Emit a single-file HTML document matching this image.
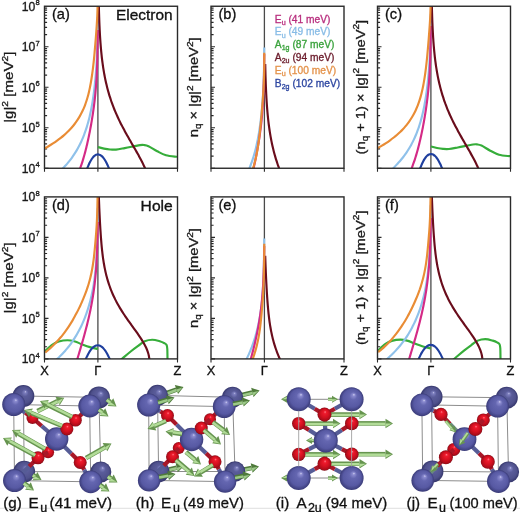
<!DOCTYPE html>
<html><head><meta charset="utf-8"><style>
html,body{margin:0;padding:0;background:#fff;}
body{width:520px;height:512px;overflow:hidden;font-family:"Liberation Sans",sans-serif;}
svg{display:block;will-change:transform;}
</style></head><body>
<svg width="520" height="512" viewBox="0 0 520 512">
<defs>
<radialGradient id="gB" cx="0.5" cy="0.5" r="0.5" fx="0.6" fy="0.3">
  <stop offset="0" stop-color="#d4d4f2"/>
  <stop offset="0.1" stop-color="#8c8cd0"/>
  <stop offset="0.32" stop-color="#6466b0"/>
  <stop offset="0.75" stop-color="#5759a3"/>
  <stop offset="1" stop-color="#3a3b78"/>
</radialGradient>
<radialGradient id="gBd" cx="0.5" cy="0.5" r="0.5" fx="0.6" fy="0.3">
  <stop offset="0" stop-color="#c0c0e6"/>
  <stop offset="0.1" stop-color="#7c7ebe"/>
  <stop offset="0.32" stop-color="#5a5c9a"/>
  <stop offset="0.75" stop-color="#4f518c"/>
  <stop offset="1" stop-color="#34356a"/>
</radialGradient>
<radialGradient id="gO" cx="0.5" cy="0.5" r="0.5" fx="0.55" fy="0.3">
  <stop offset="0" stop-color="#ff7a86"/>
  <stop offset="0.2" stop-color="#ee1a2c"/>
  <stop offset="0.6" stop-color="#d2101f"/>
  <stop offset="0.9" stop-color="#a80c1a"/>
  <stop offset="1" stop-color="#7a0a14"/>
</radialGradient>
</defs>
<path d="M44.50,168.25h4.0 M44.50,156.06h2.6 M44.50,148.93h2.6 M44.50,143.87h2.6 M44.50,139.94h2.6 M44.50,136.73h2.6 M44.50,134.02h2.6 M44.50,131.67h2.6 M44.50,129.60h2.6 M44.50,127.75h4.0 M44.50,115.56h2.6 M44.50,108.43h2.6 M44.50,103.37h2.6 M44.50,99.44h2.6 M44.50,96.23h2.6 M44.50,93.52h2.6 M44.50,91.17h2.6 M44.50,89.10h2.6 M44.50,87.25h4.0 M44.50,75.06h2.6 M44.50,67.93h2.6 M44.50,62.87h2.6 M44.50,58.94h2.6 M44.50,55.73h2.6 M44.50,53.02h2.6 M44.50,50.67h2.6 M44.50,48.60h2.6 M44.50,46.75h4.0 M44.50,34.56h2.6 M44.50,27.43h2.6 M44.50,22.37h2.6 M44.50,18.44h2.6 M44.50,15.23h2.6 M44.50,12.52h2.6 M44.50,10.17h2.6 M44.50,8.10h2.6" stroke="#2a2a2a" stroke-width="1.15" fill="none"/>
<line x1="97.90" y1="6.25" x2="97.90" y2="168.25" stroke="#4a4a4a" stroke-width="1.3"/>
<path d="M44.50,168.25v3.6 M97.90,168.25v3.6 M177.50,168.25v3.6" stroke="#2a2a2a" stroke-width="1.1"/>
<path d="M211.00,168.25h4.0 M211.00,156.06h2.6 M211.00,148.93h2.6 M211.00,143.87h2.6 M211.00,139.94h2.6 M211.00,136.73h2.6 M211.00,134.02h2.6 M211.00,131.67h2.6 M211.00,129.60h2.6 M211.00,127.75h4.0 M211.00,115.56h2.6 M211.00,108.43h2.6 M211.00,103.37h2.6 M211.00,99.44h2.6 M211.00,96.23h2.6 M211.00,93.52h2.6 M211.00,91.17h2.6 M211.00,89.10h2.6 M211.00,87.25h4.0 M211.00,75.06h2.6 M211.00,67.93h2.6 M211.00,62.87h2.6 M211.00,58.94h2.6 M211.00,55.73h2.6 M211.00,53.02h2.6 M211.00,50.67h2.6 M211.00,48.60h2.6 M211.00,46.75h4.0 M211.00,34.56h2.6 M211.00,27.43h2.6 M211.00,22.37h2.6 M211.00,18.44h2.6 M211.00,15.23h2.6 M211.00,12.52h2.6 M211.00,10.17h2.6 M211.00,8.10h2.6" stroke="#2a2a2a" stroke-width="1.15" fill="none"/>
<line x1="264.40" y1="6.25" x2="264.40" y2="168.25" stroke="#4a4a4a" stroke-width="1.3"/>
<path d="M211.00,168.25v3.6 M264.40,168.25v3.6 M344.00,168.25v3.6" stroke="#2a2a2a" stroke-width="1.1"/>
<path d="M377.50,168.25h4.0 M377.50,156.06h2.6 M377.50,148.93h2.6 M377.50,143.87h2.6 M377.50,139.94h2.6 M377.50,136.73h2.6 M377.50,134.02h2.6 M377.50,131.67h2.6 M377.50,129.60h2.6 M377.50,127.75h4.0 M377.50,115.56h2.6 M377.50,108.43h2.6 M377.50,103.37h2.6 M377.50,99.44h2.6 M377.50,96.23h2.6 M377.50,93.52h2.6 M377.50,91.17h2.6 M377.50,89.10h2.6 M377.50,87.25h4.0 M377.50,75.06h2.6 M377.50,67.93h2.6 M377.50,62.87h2.6 M377.50,58.94h2.6 M377.50,55.73h2.6 M377.50,53.02h2.6 M377.50,50.67h2.6 M377.50,48.60h2.6 M377.50,46.75h4.0 M377.50,34.56h2.6 M377.50,27.43h2.6 M377.50,22.37h2.6 M377.50,18.44h2.6 M377.50,15.23h2.6 M377.50,12.52h2.6 M377.50,10.17h2.6 M377.50,8.10h2.6" stroke="#2a2a2a" stroke-width="1.15" fill="none"/>
<line x1="430.90" y1="6.25" x2="430.90" y2="168.25" stroke="#4a4a4a" stroke-width="1.3"/>
<path d="M377.50,168.25v3.6 M430.90,168.25v3.6 M510.50,168.25v3.6" stroke="#2a2a2a" stroke-width="1.1"/>
<path d="M44.50,358.90h4.0 M44.50,346.71h2.6 M44.50,339.58h2.6 M44.50,334.52h2.6 M44.50,330.59h2.6 M44.50,327.38h2.6 M44.50,324.67h2.6 M44.50,322.32h2.6 M44.50,320.25h2.6 M44.50,318.40h4.0 M44.50,306.21h2.6 M44.50,299.08h2.6 M44.50,294.02h2.6 M44.50,290.09h2.6 M44.50,286.88h2.6 M44.50,284.17h2.6 M44.50,281.82h2.6 M44.50,279.75h2.6 M44.50,277.90h4.0 M44.50,265.71h2.6 M44.50,258.58h2.6 M44.50,253.52h2.6 M44.50,249.59h2.6 M44.50,246.38h2.6 M44.50,243.67h2.6 M44.50,241.32h2.6 M44.50,239.25h2.6 M44.50,237.40h4.0 M44.50,225.21h2.6 M44.50,218.08h2.6 M44.50,213.02h2.6 M44.50,209.09h2.6 M44.50,205.88h2.6 M44.50,203.17h2.6 M44.50,200.82h2.6 M44.50,198.75h2.6" stroke="#2a2a2a" stroke-width="1.15" fill="none"/>
<line x1="97.90" y1="196.90" x2="97.90" y2="358.90" stroke="#4a4a4a" stroke-width="1.3"/>
<path d="M44.50,358.90v3.6 M97.90,358.90v3.6 M177.50,358.90v3.6" stroke="#2a2a2a" stroke-width="1.1"/>
<path d="M211.00,358.90h4.0 M211.00,346.71h2.6 M211.00,339.58h2.6 M211.00,334.52h2.6 M211.00,330.59h2.6 M211.00,327.38h2.6 M211.00,324.67h2.6 M211.00,322.32h2.6 M211.00,320.25h2.6 M211.00,318.40h4.0 M211.00,306.21h2.6 M211.00,299.08h2.6 M211.00,294.02h2.6 M211.00,290.09h2.6 M211.00,286.88h2.6 M211.00,284.17h2.6 M211.00,281.82h2.6 M211.00,279.75h2.6 M211.00,277.90h4.0 M211.00,265.71h2.6 M211.00,258.58h2.6 M211.00,253.52h2.6 M211.00,249.59h2.6 M211.00,246.38h2.6 M211.00,243.67h2.6 M211.00,241.32h2.6 M211.00,239.25h2.6 M211.00,237.40h4.0 M211.00,225.21h2.6 M211.00,218.08h2.6 M211.00,213.02h2.6 M211.00,209.09h2.6 M211.00,205.88h2.6 M211.00,203.17h2.6 M211.00,200.82h2.6 M211.00,198.75h2.6" stroke="#2a2a2a" stroke-width="1.15" fill="none"/>
<line x1="264.40" y1="196.90" x2="264.40" y2="358.90" stroke="#4a4a4a" stroke-width="1.3"/>
<path d="M211.00,358.90v3.6 M264.40,358.90v3.6 M344.00,358.90v3.6" stroke="#2a2a2a" stroke-width="1.1"/>
<path d="M377.50,358.90h4.0 M377.50,346.71h2.6 M377.50,339.58h2.6 M377.50,334.52h2.6 M377.50,330.59h2.6 M377.50,327.38h2.6 M377.50,324.67h2.6 M377.50,322.32h2.6 M377.50,320.25h2.6 M377.50,318.40h4.0 M377.50,306.21h2.6 M377.50,299.08h2.6 M377.50,294.02h2.6 M377.50,290.09h2.6 M377.50,286.88h2.6 M377.50,284.17h2.6 M377.50,281.82h2.6 M377.50,279.75h2.6 M377.50,277.90h4.0 M377.50,265.71h2.6 M377.50,258.58h2.6 M377.50,253.52h2.6 M377.50,249.59h2.6 M377.50,246.38h2.6 M377.50,243.67h2.6 M377.50,241.32h2.6 M377.50,239.25h2.6 M377.50,237.40h4.0 M377.50,225.21h2.6 M377.50,218.08h2.6 M377.50,213.02h2.6 M377.50,209.09h2.6 M377.50,205.88h2.6 M377.50,203.17h2.6 M377.50,200.82h2.6 M377.50,198.75h2.6" stroke="#2a2a2a" stroke-width="1.15" fill="none"/>
<line x1="430.90" y1="196.90" x2="430.90" y2="358.90" stroke="#4a4a4a" stroke-width="1.3"/>
<path d="M377.50,358.90v3.6 M430.90,358.90v3.6 M510.50,358.90v3.6" stroke="#2a2a2a" stroke-width="1.1"/>
<clipPath id="cp00"><rect x="44.5" y="6.25" width="133.0" height="162.0"/></clipPath>
<path d="M97.90,147.10 C98.92,147.35 101.98,148.20 104.00,148.60 C106.02,149.00 108.00,149.33 110.00,149.50 C112.00,149.67 113.54,149.83 116.00,149.60 C118.46,149.37 121.83,148.63 124.75,148.10 C127.67,147.57 130.96,146.90 133.50,146.40 C136.04,145.90 138.25,145.33 140.00,145.10 C141.75,144.87 142.58,144.82 144.00,145.00 C145.42,145.18 146.29,145.15 148.50,146.20 C150.71,147.25 154.33,149.78 157.25,151.30 C160.17,152.82 162.71,154.38 166.00,155.30 C169.29,156.22 175.17,156.55 177.00,156.80" fill="none" stroke="#36ad3a" stroke-width="2.15" stroke-linejoin="round" stroke-linecap="butt" clip-path="url(#cp00)"/>
<path d="M83.66,176.98 C84.30,175.44 86.64,169.82 87.50,167.75 C88.36,165.68 88.38,165.55 88.83,164.57 C89.27,163.58 89.71,162.66 90.15,161.81 C90.59,160.97 91.03,160.20 91.47,159.50 C91.92,158.79 92.36,158.17 92.80,157.61 C93.24,157.05 93.68,156.57 94.12,156.16 C94.57,155.75 95.01,155.41 95.45,155.14 C95.89,154.87 96.33,154.68 96.78,154.56 C97.22,154.43 97.66,154.39 98.10,154.40 C98.54,154.42 98.98,154.51 99.42,154.67 C99.87,154.82 100.31,155.04 100.75,155.33 C101.19,155.62 101.63,155.97 102.08,156.40 C102.52,156.82 102.96,157.31 103.40,157.86 C103.84,158.42 104.28,159.04 104.72,159.73 C105.17,160.42 105.61,161.18 106.05,162.00 C106.49,162.83 106.93,163.72 107.38,164.68 C107.82,165.63 107.82,165.71 108.70,167.75 C109.58,169.79 112.00,175.40 112.66,176.93" fill="none" stroke="#1f3f9e" stroke-width="2.15" stroke-linejoin="round" stroke-linecap="butt" clip-path="url(#cp00)"/>
<path d="M97.76,17.00 C97.75,17.43 97.74,18.70 97.74,19.56 C97.73,20.41 97.72,21.26 97.72,22.11 C97.71,22.96 97.70,23.81 97.69,24.67 C97.68,25.52 97.67,26.37 97.66,27.22 C97.65,28.07 97.64,28.92 97.63,29.78 C97.62,30.63 97.61,31.48 97.60,32.33 C97.58,33.18 97.57,34.03 97.55,34.89 C97.54,35.74 97.52,36.59 97.51,37.44 C97.49,38.29 97.47,39.14 97.45,40.00 C97.43,40.85 97.41,41.70 97.39,42.55 C97.37,43.40 97.35,44.25 97.33,45.11 C97.30,45.96 97.28,46.81 97.25,47.66 C97.22,48.51 97.19,49.36 97.16,50.22 C97.13,51.07 97.10,51.92 97.07,52.77 C97.03,53.62 97.00,54.47 96.96,55.33 C96.92,56.18 96.89,57.03 96.84,57.88 C96.80,58.73 96.76,59.58 96.72,60.44 C96.67,61.29 96.62,62.14 96.57,62.99 C96.52,63.84 96.47,64.69 96.42,65.55 C96.36,66.40 96.31,67.25 96.25,68.10 C96.19,68.95 96.13,69.81 96.07,70.66 C96.00,71.51 95.94,72.36 95.87,73.21 C95.80,74.06 95.73,74.92 95.66,75.77 C95.59,76.62 95.51,77.47 95.43,78.32 C95.36,79.17 95.28,80.03 95.19,80.88 C95.11,81.73 95.02,82.58 94.94,83.43 C94.85,84.28 94.76,85.14 94.66,85.99 C94.57,86.84 94.47,87.69 94.37,88.54 C94.27,89.39 94.17,90.25 94.06,91.10 C93.95,91.95 93.84,92.80 93.73,93.65 C93.62,94.50 93.50,95.36 93.38,96.21 C93.26,97.06 93.13,97.91 93.01,98.76 C92.88,99.61 92.75,100.47 92.61,101.32 C92.47,102.17 92.33,103.02 92.19,103.87 C92.04,104.72 91.89,105.58 91.74,106.43 C91.58,107.28 91.42,108.13 91.26,108.98 C91.09,109.83 90.92,110.69 90.74,111.54 C90.57,112.39 90.38,113.24 90.19,114.09 C90.01,114.94 89.81,115.80 89.61,116.65 C89.41,117.50 89.20,118.35 88.98,119.20 C88.77,120.06 88.54,120.91 88.31,121.76 C88.08,122.61 87.84,123.46 87.59,124.31 C87.35,125.17 87.09,126.02 86.83,126.87 C86.56,127.72 86.29,128.57 86.01,129.42 C85.73,130.28 85.43,131.13 85.13,131.98 C84.83,132.83 84.52,133.68 84.19,134.53 C83.87,135.39 83.53,136.24 83.19,137.09 C82.84,137.94 82.48,138.79 82.11,139.64 C81.74,140.50 81.35,141.35 80.95,142.20 C80.56,143.05 80.14,143.90 79.72,144.75 C79.29,145.61 78.85,146.46 78.39,147.31 C77.93,148.16 77.45,149.01 76.96,149.86 C76.47,150.72 75.96,151.57 75.43,152.42 C74.90,153.27 74.35,154.12 73.78,154.97 C73.21,155.83 72.62,156.68 72.01,157.53 C71.40,158.38 70.76,159.23 70.10,160.08 C69.44,160.94 68.76,161.79 68.05,162.64 C67.33,163.49 66.60,164.34 65.83,165.19 C65.06,166.05 64.98,166.11 63.44,167.75 C61.90,169.39 57.74,173.83 56.60,175.05" fill="none" stroke="#8fc1ea" stroke-width="2.15" stroke-linejoin="round" stroke-linecap="butt" clip-path="url(#cp00)"/>
<path d="M97.75,30.00 C97.75,30.39 97.74,31.56 97.73,32.33 C97.73,33.11 97.72,33.89 97.71,34.67 C97.71,35.45 97.70,36.23 97.69,37.00 C97.68,37.78 97.67,38.56 97.67,39.34 C97.66,40.12 97.65,40.90 97.64,41.67 C97.63,42.45 97.62,43.23 97.61,44.01 C97.60,44.79 97.59,45.56 97.57,46.34 C97.56,47.12 97.55,47.90 97.54,48.68 C97.52,49.46 97.51,50.23 97.49,51.01 C97.48,51.79 97.46,52.57 97.45,53.35 C97.43,54.13 97.41,54.90 97.39,55.68 C97.38,56.46 97.36,57.24 97.34,58.02 C97.32,58.80 97.30,59.57 97.27,60.35 C97.25,61.13 97.23,61.91 97.20,62.69 C97.18,63.46 97.15,64.24 97.13,65.02 C97.10,65.80 97.07,66.58 97.04,67.36 C97.01,68.13 96.98,68.91 96.95,69.69 C96.91,70.47 96.88,71.25 96.84,72.03 C96.81,72.80 96.77,73.58 96.73,74.36 C96.69,75.14 96.65,75.92 96.61,76.69 C96.57,77.47 96.52,78.25 96.48,79.03 C96.43,79.81 96.38,80.59 96.33,81.36 C96.28,82.14 96.23,82.92 96.17,83.70 C96.12,84.48 96.06,85.26 96.00,86.03 C95.94,86.81 95.88,87.59 95.82,88.37 C95.75,89.15 95.69,89.93 95.62,90.70 C95.55,91.48 95.48,92.26 95.41,93.04 C95.33,93.82 95.26,94.59 95.18,95.37 C95.10,96.15 95.02,96.93 94.94,97.71 C94.85,98.49 94.77,99.26 94.68,100.04 C94.59,100.82 94.50,101.60 94.40,102.38 C94.31,103.16 94.21,103.93 94.11,104.71 C94.02,105.49 93.91,106.27 93.81,107.05 C93.71,107.82 93.60,108.60 93.49,109.38 C93.38,110.16 93.27,110.94 93.16,111.72 C93.05,112.49 92.93,113.27 92.82,114.05 C92.70,114.83 92.58,115.61 92.46,116.39 C92.34,117.16 92.21,117.94 92.08,118.72 C91.96,119.50 91.83,120.28 91.70,121.06 C91.57,121.83 91.44,122.61 91.30,123.39 C91.17,124.17 91.03,124.95 90.89,125.72 C90.75,126.50 90.61,127.28 90.46,128.06 C90.32,128.84 90.17,129.62 90.02,130.39 C89.88,131.17 89.72,131.95 89.57,132.73 C89.42,133.51 89.26,134.29 89.10,135.06 C88.94,135.84 88.78,136.62 88.62,137.40 C88.45,138.18 88.29,138.95 88.12,139.73 C87.95,140.51 87.78,141.29 87.60,142.07 C87.43,142.85 87.25,143.62 87.07,144.40 C86.89,145.18 86.70,145.96 86.51,146.74 C86.32,147.52 86.13,148.29 85.94,149.07 C85.74,149.85 85.54,150.63 85.34,151.41 C85.14,152.19 84.93,152.96 84.72,153.74 C84.51,154.52 84.29,155.30 84.07,156.08 C83.85,156.85 83.62,157.63 83.39,158.41 C83.16,159.19 82.93,159.97 82.68,160.75 C82.44,161.52 82.20,162.30 81.94,163.08 C81.69,163.86 81.43,164.64 81.16,165.42 C80.89,166.19 81.03,165.79 80.33,167.75 C79.64,169.71 77.56,175.61 77.00,177.18" fill="none" stroke="#d42a86" stroke-width="2.15" stroke-linejoin="round" stroke-linecap="butt" clip-path="url(#cp00)"/>
<path d="M98.73,0.60 C98.74,1.07 98.77,2.49 98.79,3.43 C98.81,4.38 98.83,5.32 98.85,6.27 C98.88,7.21 98.90,8.15 98.93,9.10 C98.95,10.04 98.98,10.99 99.00,11.93 C99.03,12.88 99.06,13.82 99.09,14.77 C99.12,15.71 99.15,16.65 99.18,17.60 C99.21,18.54 99.25,19.49 99.28,20.43 C99.32,21.38 99.35,22.32 99.39,23.26 C99.43,24.21 99.47,25.15 99.51,26.10 C99.55,27.04 99.60,27.99 99.64,28.93 C99.69,29.87 99.74,30.82 99.79,31.76 C99.84,32.71 99.89,33.65 99.94,34.60 C100.00,35.54 100.05,36.49 100.11,37.43 C100.17,38.37 100.24,39.32 100.30,40.26 C100.37,41.21 100.43,42.15 100.50,43.10 C100.57,44.04 100.65,44.98 100.72,45.93 C100.80,46.87 100.88,47.82 100.97,48.76 C101.05,49.71 101.14,50.65 101.23,51.59 C101.32,52.54 101.41,53.48 101.51,54.43 C101.61,55.37 101.71,56.32 101.82,57.26 C101.93,58.21 102.04,59.15 102.16,60.09 C102.28,61.04 102.40,61.98 102.52,62.93 C102.65,63.87 102.78,64.82 102.92,65.76 C103.06,66.70 103.20,67.65 103.35,68.59 C103.49,69.54 103.65,70.48 103.81,71.43 C103.97,72.37 104.13,73.31 104.31,74.26 C104.48,75.20 104.66,76.15 104.84,77.09 C105.03,78.04 105.22,78.98 105.42,79.93 C105.62,80.87 105.83,81.81 106.04,82.76 C106.26,83.70 106.48,84.65 106.71,85.59 C106.94,86.54 107.18,87.48 107.43,88.42 C107.68,89.37 107.93,90.31 108.19,91.26 C108.46,92.20 108.73,93.15 109.01,94.09 C109.29,95.04 109.58,95.98 109.88,96.92 C110.18,97.87 110.49,98.81 110.81,99.76 C111.12,100.70 111.45,101.65 111.79,102.59 C112.13,103.53 112.47,104.48 112.83,105.42 C113.18,106.37 113.55,107.31 113.92,108.26 C114.30,109.20 114.68,110.14 115.08,111.09 C115.47,112.03 115.88,112.98 116.29,113.92 C116.70,114.87 117.13,115.81 117.56,116.76 C117.99,117.70 118.43,118.64 118.88,119.59 C119.33,120.53 119.79,121.48 120.26,122.42 C120.73,123.37 121.21,124.31 121.69,125.25 C122.18,126.20 122.67,127.14 123.17,128.09 C123.67,129.03 124.17,129.98 124.69,130.92 C125.20,131.86 125.72,132.81 126.24,133.75 C126.77,134.70 127.30,135.64 127.83,136.59 C128.36,137.53 128.90,138.48 129.44,139.42 C129.98,140.36 130.53,141.31 131.07,142.25 C131.62,143.20 132.16,144.14 132.71,145.09 C133.26,146.03 133.80,146.97 134.35,147.92 C134.89,148.86 135.43,149.81 135.97,150.75 C136.51,151.70 137.05,152.64 137.57,153.58 C138.10,154.53 138.63,155.47 139.14,156.42 C139.66,157.36 140.17,158.31 140.67,159.25 C141.16,160.20 141.65,161.14 142.13,162.08 C142.60,163.03 143.07,163.97 143.52,164.92 C143.97,165.86 143.91,165.76 144.82,167.75 C145.74,169.74 148.31,175.32 149.00,176.83" fill="none" stroke="#6a0d1c" stroke-width="2.15" stroke-linejoin="round" stroke-linecap="butt" clip-path="url(#cp00)"/>
<path d="M97.76,-15.00 C97.76,-14.54 97.76,-13.15 97.76,-12.22 C97.76,-11.29 97.76,-10.37 97.76,-9.44 C97.76,-8.51 97.75,-7.59 97.75,-6.66 C97.74,-5.73 97.74,-4.81 97.73,-3.88 C97.73,-2.95 97.72,-2.03 97.71,-1.10 C97.70,-0.18 97.69,0.75 97.68,1.68 C97.66,2.60 97.65,3.53 97.63,4.46 C97.61,5.38 97.59,6.31 97.57,7.24 C97.55,8.16 97.53,9.09 97.50,10.02 C97.47,10.94 97.44,11.87 97.40,12.80 C97.37,13.72 97.33,14.65 97.29,15.58 C97.25,16.50 97.20,17.43 97.15,18.36 C97.10,19.28 97.05,20.21 97.00,21.14 C96.94,22.06 96.89,22.99 96.83,23.92 C96.77,24.84 96.71,25.77 96.65,26.69 C96.58,27.62 96.52,28.55 96.45,29.47 C96.39,30.40 96.32,31.33 96.25,32.25 C96.18,33.18 96.11,34.11 96.04,35.03 C95.96,35.96 95.89,36.89 95.82,37.81 C95.75,38.74 95.67,39.67 95.60,40.59 C95.52,41.52 95.45,42.45 95.37,43.37 C95.29,44.30 95.22,45.23 95.14,46.15 C95.06,47.08 94.98,48.01 94.90,48.93 C94.82,49.86 94.74,50.79 94.66,51.71 C94.58,52.64 94.50,53.56 94.41,54.49 C94.33,55.42 94.24,56.34 94.15,57.27 C94.06,58.20 93.97,59.12 93.87,60.05 C93.78,60.98 93.68,61.90 93.58,62.83 C93.48,63.76 93.37,64.68 93.27,65.61 C93.16,66.54 93.05,67.46 92.94,68.39 C92.82,69.32 92.70,70.24 92.58,71.17 C92.46,72.10 92.34,73.02 92.21,73.95 C92.08,74.88 91.94,75.80 91.80,76.73 C91.66,77.66 91.52,78.58 91.37,79.51 C91.22,80.44 91.06,81.36 90.90,82.29 C90.74,83.21 90.57,84.14 90.39,85.07 C90.22,85.99 90.03,86.92 89.84,87.85 C89.65,88.77 89.45,89.70 89.24,90.63 C89.03,91.55 88.82,92.48 88.59,93.41 C88.36,94.33 88.12,95.26 87.87,96.19 C87.61,97.11 87.35,98.04 87.07,98.97 C86.79,99.89 86.50,100.82 86.19,101.75 C85.89,102.67 85.56,103.60 85.22,104.53 C84.88,105.45 84.52,106.38 84.14,107.31 C83.75,108.23 83.36,109.16 82.93,110.08 C82.51,111.01 82.07,111.94 81.60,112.86 C81.13,113.79 80.64,114.72 80.11,115.64 C79.59,116.57 79.05,117.50 78.47,118.42 C77.89,119.35 77.29,120.28 76.64,121.20 C76.00,122.13 75.33,123.06 74.62,123.98 C73.91,124.91 73.17,125.84 72.38,126.76 C71.59,127.69 70.77,128.62 69.90,129.54 C69.03,130.47 68.12,131.40 67.15,132.32 C66.19,133.25 65.18,134.18 64.12,135.10 C63.05,136.03 61.94,136.95 60.77,137.88 C59.59,138.81 58.36,139.73 57.07,140.66 C55.77,141.59 54.42,142.51 52.99,143.44 C51.56,144.37 50.07,145.29 48.50,146.22 C46.93,147.15 44.39,148.54 43.57,149.00" fill="none" stroke="#e98c35" stroke-width="2.15" stroke-linejoin="round" stroke-linecap="butt" clip-path="url(#cp00)"/>
<clipPath id="cp10"><rect x="211.0" y="6.25" width="133.0" height="162.0"/></clipPath>
<path d="M264.40,205.68 C265.42,205.93 268.48,206.78 270.50,207.18 C272.52,207.58 274.50,207.91 276.50,208.08 C278.50,208.25 280.04,208.41 282.50,208.18 C284.96,207.95 288.33,207.21 291.25,206.68 C294.17,206.15 297.46,205.48 300.00,204.98 C302.54,204.48 304.75,203.91 306.50,203.68 C308.25,203.45 309.08,203.40 310.50,203.58 C311.92,203.76 312.79,203.73 315.00,204.78 C317.21,205.83 320.83,208.36 323.75,209.88 C326.67,211.40 329.21,212.96 332.50,213.88 C335.79,214.80 341.67,215.13 343.50,215.38" fill="none" stroke="#36ad3a" stroke-width="2.15" stroke-linejoin="round" stroke-linecap="butt" clip-path="url(#cp10)"/>
<path d="M250.16,246.04 C250.80,244.50 253.14,238.88 254.00,236.81 C254.86,234.74 254.88,234.61 255.32,233.62 C255.77,232.64 256.21,231.72 256.65,230.87 C257.09,230.03 257.53,229.26 257.98,228.55 C258.42,227.85 258.86,227.23 259.30,226.67 C259.74,226.11 260.18,225.63 260.62,225.22 C261.07,224.81 261.51,224.47 261.95,224.20 C262.39,223.93 262.83,223.74 263.27,223.62 C263.72,223.49 264.16,223.45 264.60,223.46 C265.04,223.48 265.48,223.57 265.93,223.73 C266.37,223.88 266.81,224.10 267.25,224.39 C267.69,224.68 268.13,225.03 268.57,225.45 C269.02,225.88 269.46,226.37 269.90,226.92 C270.34,227.48 270.78,228.10 271.23,228.79 C271.67,229.48 272.11,230.24 272.55,231.06 C272.99,231.89 273.43,232.78 273.88,233.73 C274.32,234.69 274.32,234.77 275.20,236.81 C276.08,238.85 278.50,244.46 279.16,245.99" fill="none" stroke="#1f3f9e" stroke-width="2.15" stroke-linejoin="round" stroke-linecap="butt" clip-path="url(#cp10)"/>
<path d="M265.23,64.09 C265.24,64.56 265.27,65.98 265.29,66.92 C265.31,67.87 265.33,68.81 265.35,69.76 C265.38,70.70 265.40,71.64 265.43,72.59 C265.45,73.53 265.48,74.48 265.50,75.42 C265.53,76.37 265.56,77.31 265.59,78.26 C265.62,79.20 265.65,80.14 265.68,81.09 C265.71,82.03 265.75,82.98 265.78,83.92 C265.82,84.87 265.85,85.81 265.89,86.75 C265.93,87.70 265.97,88.64 266.01,89.59 C266.05,90.53 266.10,91.48 266.14,92.42 C266.19,93.36 266.24,94.31 266.29,95.25 C266.34,96.20 266.39,97.14 266.44,98.09 C266.50,99.03 266.55,99.98 266.61,100.92 C266.67,101.86 266.74,102.81 266.80,103.75 C266.87,104.70 266.93,105.64 267.00,106.59 C267.07,107.53 267.15,108.47 267.22,109.42 C267.30,110.36 267.38,111.31 267.47,112.25 C267.55,113.20 267.64,114.14 267.73,115.09 C267.82,116.03 267.91,116.97 268.01,117.92 C268.11,118.86 268.21,119.81 268.32,120.75 C268.43,121.70 268.54,122.64 268.66,123.58 C268.78,124.53 268.90,125.47 269.02,126.42 C269.15,127.36 269.28,128.31 269.42,129.25 C269.56,130.19 269.70,131.14 269.85,132.08 C269.99,133.03 270.15,133.97 270.31,134.92 C270.47,135.86 270.63,136.81 270.81,137.75 C270.98,138.69 271.16,139.64 271.34,140.58 C271.53,141.53 271.72,142.47 271.92,143.42 C272.12,144.36 272.33,145.30 272.54,146.25 C272.76,147.19 272.98,148.14 273.21,149.08 C273.44,150.03 273.68,150.97 273.93,151.91 C274.18,152.86 274.43,153.80 274.69,154.75 C274.96,155.69 275.23,156.64 275.51,157.58 C275.79,158.53 276.08,159.47 276.38,160.41 C276.68,161.36 276.99,162.30 277.31,163.25 C277.62,164.19 277.95,165.14 278.29,166.08 C278.63,167.02 278.97,167.97 279.33,168.91 C279.68,169.86 280.05,170.80 280.42,171.75 C280.80,172.69 281.18,173.63 281.58,174.58 C281.97,175.52 282.38,176.47 282.79,177.41 C283.20,178.36 283.63,179.30 284.06,180.25 C284.49,181.19 284.93,182.13 285.38,183.08 C285.83,184.02 286.29,184.97 286.76,185.91 C287.23,186.86 287.71,187.80 288.19,188.74 C288.68,189.69 289.17,190.63 289.67,191.58 C290.17,192.52 290.67,193.47 291.19,194.41 C291.70,195.35 292.22,196.30 292.74,197.24 C293.27,198.19 293.80,199.13 294.33,200.08 C294.86,201.02 295.40,201.97 295.94,202.91 C296.48,203.85 297.03,204.80 297.57,205.74 C298.12,206.69 298.66,207.63 299.21,208.58 C299.76,209.52 300.30,210.46 300.85,211.41 C301.39,212.35 301.93,213.30 302.47,214.24 C303.01,215.19 303.55,216.13 304.07,217.07 C304.60,218.02 305.13,218.96 305.64,219.91 C306.16,220.85 306.67,221.80 307.17,222.74 C307.66,223.69 308.15,224.63 308.63,225.57 C309.10,226.52 309.57,227.46 310.02,228.41 C310.47,229.35 310.41,229.25 311.32,231.24 C312.24,233.23 314.81,238.81 315.50,240.32" fill="none" stroke="#6a0d1c" stroke-width="2.15" stroke-linejoin="round" stroke-linecap="butt" clip-path="url(#cp10)"/>
<path d="M264.26,47.48 C264.25,47.90 264.24,49.18 264.24,50.03 C264.23,50.88 264.22,51.74 264.22,52.59 C264.21,53.44 264.20,54.29 264.19,55.14 C264.18,55.99 264.17,56.85 264.16,57.70 C264.15,58.55 264.14,59.40 264.13,60.25 C264.12,61.10 264.11,61.96 264.10,62.81 C264.08,63.66 264.07,64.51 264.05,65.36 C264.04,66.21 264.02,67.07 264.01,67.92 C263.99,68.77 263.97,69.62 263.95,70.47 C263.93,71.32 263.91,72.18 263.89,73.03 C263.87,73.88 263.85,74.73 263.83,75.58 C263.80,76.43 263.78,77.29 263.75,78.14 C263.72,78.99 263.69,79.84 263.66,80.69 C263.63,81.55 263.60,82.40 263.57,83.25 C263.53,84.10 263.50,84.95 263.46,85.80 C263.42,86.66 263.39,87.51 263.34,88.36 C263.30,89.21 263.26,90.06 263.22,90.91 C263.17,91.77 263.12,92.62 263.07,93.47 C263.02,94.32 262.97,95.17 262.92,96.02 C262.86,96.88 262.81,97.73 262.75,98.58 C262.69,99.43 262.63,100.28 262.57,101.13 C262.50,101.99 262.44,102.84 262.37,103.69 C262.30,104.54 262.23,105.39 262.16,106.24 C262.09,107.10 262.01,107.95 261.93,108.80 C261.86,109.65 261.78,110.50 261.69,111.35 C261.61,112.21 261.52,113.06 261.44,113.91 C261.35,114.76 261.26,115.61 261.16,116.46 C261.07,117.32 260.97,118.17 260.87,119.02 C260.77,119.87 260.67,120.72 260.56,121.57 C260.45,122.43 260.34,123.28 260.23,124.13 C260.12,124.98 260.00,125.83 259.88,126.68 C259.76,127.54 259.63,128.39 259.51,129.24 C259.38,130.09 259.25,130.94 259.11,131.80 C258.97,132.65 258.83,133.50 258.69,134.35 C258.54,135.20 258.39,136.05 258.24,136.91 C258.08,137.76 257.92,138.61 257.76,139.46 C257.59,140.31 257.42,141.16 257.24,142.02 C257.07,142.87 256.88,143.72 256.69,144.57 C256.51,145.42 256.31,146.27 256.11,147.13 C255.91,147.98 255.70,148.83 255.48,149.68 C255.27,150.53 255.04,151.38 254.81,152.24 C254.58,153.09 254.34,153.94 254.09,154.79 C253.85,155.64 253.59,156.49 253.33,157.35 C253.06,158.20 252.79,159.05 252.51,159.90 C252.23,160.75 251.93,161.60 251.63,162.46 C251.33,163.31 251.02,164.16 250.69,165.01 C250.37,165.86 250.03,166.71 249.69,167.57 C249.34,168.42 248.98,169.27 248.61,170.12 C248.24,170.97 247.85,171.82 247.45,172.68 C247.06,173.53 246.64,174.38 246.22,175.23 C245.79,176.08 245.35,176.93 244.89,177.79 C244.43,178.64 243.95,179.49 243.46,180.34 C242.97,181.19 242.46,182.05 241.93,182.90 C241.40,183.75 240.85,184.60 240.28,185.45 C239.71,186.30 239.12,187.16 238.51,188.01 C237.90,188.86 237.26,189.71 236.60,190.56 C235.94,191.41 235.26,192.27 234.55,193.12 C233.83,193.97 233.10,194.82 232.33,195.67 C231.56,196.52 231.48,196.58 229.94,198.23 C228.40,199.87 224.24,204.31 223.10,205.53" fill="none" stroke="#8fc1ea" stroke-width="2.15" stroke-linejoin="round" stroke-linecap="butt" clip-path="url(#cp10)"/>
<path d="M264.25,53.87 C264.25,54.26 264.24,55.42 264.23,56.20 C264.23,56.98 264.22,57.76 264.21,58.54 C264.21,59.32 264.20,60.09 264.19,60.87 C264.18,61.65 264.17,62.43 264.17,63.21 C264.16,63.99 264.15,64.76 264.14,65.54 C264.13,66.32 264.12,67.10 264.11,67.88 C264.10,68.65 264.09,69.43 264.07,70.21 C264.06,70.99 264.05,71.77 264.04,72.55 C264.02,73.32 264.01,74.10 263.99,74.88 C263.98,75.66 263.96,76.44 263.95,77.22 C263.93,77.99 263.91,78.77 263.89,79.55 C263.88,80.33 263.86,81.11 263.84,81.89 C263.82,82.66 263.80,83.44 263.77,84.22 C263.75,85.00 263.73,85.78 263.70,86.55 C263.68,87.33 263.65,88.11 263.63,88.89 C263.60,89.67 263.57,90.45 263.54,91.22 C263.51,92.00 263.48,92.78 263.45,93.56 C263.41,94.34 263.38,95.12 263.34,95.89 C263.31,96.67 263.27,97.45 263.23,98.23 C263.19,99.01 263.15,99.78 263.11,100.56 C263.07,101.34 263.02,102.12 262.98,102.90 C262.93,103.68 262.88,104.45 262.83,105.23 C262.78,106.01 262.73,106.79 262.67,107.57 C262.62,108.35 262.56,109.12 262.50,109.90 C262.44,110.68 262.38,111.46 262.32,112.24 C262.25,113.02 262.19,113.79 262.12,114.57 C262.05,115.35 261.98,116.13 261.91,116.91 C261.83,117.68 261.76,118.46 261.68,119.24 C261.60,120.02 261.52,120.80 261.44,121.58 C261.35,122.35 261.27,123.13 261.18,123.91 C261.09,124.69 261.00,125.47 260.90,126.25 C260.81,127.02 260.71,127.80 260.61,128.58 C260.52,129.36 260.41,130.14 260.31,130.91 C260.21,131.69 260.10,132.47 259.99,133.25 C259.88,134.03 259.77,134.81 259.66,135.58 C259.55,136.36 259.43,137.14 259.32,137.92 C259.20,138.70 259.08,139.48 258.96,140.25 C258.84,141.03 258.71,141.81 258.58,142.59 C258.46,143.37 258.33,144.15 258.20,144.92 C258.07,145.70 257.94,146.48 257.80,147.26 C257.67,148.04 257.53,148.81 257.39,149.59 C257.25,150.37 257.11,151.15 256.96,151.93 C256.82,152.71 256.67,153.48 256.52,154.26 C256.38,155.04 256.22,155.82 256.07,156.60 C255.92,157.38 255.76,158.15 255.60,158.93 C255.44,159.71 255.28,160.49 255.12,161.27 C254.95,162.04 254.79,162.82 254.62,163.60 C254.45,164.38 254.28,165.16 254.10,165.94 C253.93,166.71 253.75,167.49 253.57,168.27 C253.39,169.05 253.20,169.83 253.01,170.61 C252.82,171.38 252.63,172.16 252.44,172.94 C252.24,173.72 252.04,174.50 251.84,175.27 C251.64,176.05 251.43,176.83 251.22,177.61 C251.01,178.39 250.79,179.17 250.57,179.94 C250.35,180.72 250.12,181.50 249.89,182.28 C249.66,183.06 249.43,183.84 249.18,184.61 C248.94,185.39 248.70,186.17 248.44,186.95 C248.19,187.73 247.93,188.51 247.66,189.28 C247.39,190.06 247.53,189.66 246.83,191.62 C246.14,193.58 244.06,199.48 243.50,201.05" fill="none" stroke="#d42a86" stroke-width="2.15" stroke-linejoin="round" stroke-linecap="butt" clip-path="url(#cp10)"/>
<path d="M264.26,52.67 C264.26,53.13 264.26,54.52 264.26,55.45 C264.26,56.38 264.26,57.30 264.26,58.23 C264.26,59.16 264.25,60.08 264.25,61.01 C264.24,61.94 264.24,62.86 264.23,63.79 C264.23,64.72 264.22,65.64 264.21,66.57 C264.20,67.50 264.19,68.42 264.18,69.35 C264.16,70.28 264.15,71.20 264.13,72.13 C264.11,73.06 264.09,73.98 264.07,74.91 C264.05,75.83 264.03,76.76 264.00,77.69 C263.97,78.61 263.94,79.54 263.90,80.47 C263.87,81.39 263.83,82.32 263.79,83.25 C263.75,84.17 263.70,85.10 263.65,86.03 C263.60,86.95 263.55,87.88 263.50,88.81 C263.44,89.73 263.39,90.66 263.33,91.59 C263.27,92.51 263.21,93.44 263.15,94.37 C263.08,95.29 263.02,96.22 262.95,97.15 C262.89,98.07 262.82,99.00 262.75,99.93 C262.68,100.85 262.61,101.78 262.54,102.70 C262.46,103.63 262.39,104.56 262.32,105.48 C262.25,106.41 262.17,107.34 262.10,108.26 C262.02,109.19 261.95,110.12 261.87,111.04 C261.79,111.97 261.72,112.90 261.64,113.82 C261.56,114.75 261.48,115.68 261.40,116.60 C261.32,117.53 261.24,118.46 261.16,119.38 C261.08,120.31 261.00,121.24 260.91,122.16 C260.83,123.09 260.74,124.02 260.65,124.94 C260.56,125.87 260.47,126.80 260.37,127.72 C260.28,128.65 260.18,129.57 260.08,130.50 C259.98,131.43 259.87,132.35 259.77,133.28 C259.66,134.21 259.55,135.13 259.44,136.06 C259.32,136.99 259.20,137.91 259.08,138.84 C258.96,139.77 258.84,140.69 258.71,141.62 C258.58,142.55 258.44,143.47 258.30,144.40 C258.16,145.33 258.02,146.25 257.87,147.18 C257.72,148.11 257.56,149.03 257.40,149.96 C257.24,150.89 257.07,151.81 256.89,152.74 C256.72,153.67 256.53,154.59 256.34,155.52 C256.15,156.44 255.95,157.37 255.74,158.30 C255.53,159.22 255.32,160.15 255.09,161.08 C254.86,162.00 254.62,162.93 254.37,163.86 C254.11,164.78 253.85,165.71 253.57,166.64 C253.29,167.56 253.00,168.49 252.69,169.42 C252.39,170.34 252.06,171.27 251.72,172.20 C251.38,173.12 251.02,174.05 250.64,174.98 C250.25,175.90 249.86,176.83 249.43,177.76 C249.01,178.68 248.57,179.61 248.10,180.54 C247.63,181.46 247.14,182.39 246.61,183.32 C246.09,184.24 245.55,185.17 244.97,186.09 C244.39,187.02 243.79,187.95 243.14,188.87 C242.50,189.80 241.83,190.73 241.12,191.65 C240.41,192.58 239.67,193.51 238.88,194.43 C238.09,195.36 237.27,196.29 236.40,197.21 C235.53,198.14 234.62,199.07 233.65,199.99 C232.69,200.92 231.68,201.85 230.62,202.77 C229.55,203.70 228.44,204.63 227.27,205.55 C226.09,206.48 224.86,207.41 223.57,208.33 C222.27,209.26 220.92,210.19 219.49,211.11 C218.06,212.04 216.57,212.96 215.00,213.89 C213.43,214.82 210.89,216.21 210.07,216.67" fill="none" stroke="#e98c35" stroke-width="2.15" stroke-linejoin="round" stroke-linecap="butt" clip-path="url(#cp10)"/>
<clipPath id="cp20"><rect x="377.5" y="6.25" width="133.0" height="162.0"/></clipPath>
<path d="M430.90,146.48 C431.92,146.73 434.98,147.58 437.00,147.98 C439.02,148.38 441.00,148.72 443.00,148.88 C445.00,149.05 446.54,149.22 449.00,148.98 C451.46,148.75 454.83,148.02 457.75,147.48 C460.67,146.95 463.96,146.28 466.50,145.78 C469.04,145.28 471.25,144.72 473.00,144.48 C474.75,144.25 475.58,144.20 477.00,144.38 C478.42,144.57 479.29,144.53 481.50,145.58 C483.71,146.63 487.33,149.17 490.25,150.68 C493.17,152.20 495.71,153.77 499.00,154.68 C502.29,155.60 508.17,155.93 510.00,156.18" fill="none" stroke="#36ad3a" stroke-width="2.15" stroke-linejoin="round" stroke-linecap="butt" clip-path="url(#cp20)"/>
<path d="M416.66,176.64 C417.30,175.10 419.64,169.48 420.50,167.41 C421.36,165.34 421.38,165.21 421.82,164.22 C422.27,163.23 422.71,162.31 423.15,161.47 C423.59,160.63 424.03,159.85 424.48,159.15 C424.92,158.45 425.36,157.82 425.80,157.27 C426.24,156.71 426.68,156.23 427.12,155.82 C427.57,155.40 428.01,155.06 428.45,154.80 C428.89,154.53 429.33,154.34 429.77,154.21 C430.22,154.09 430.66,154.04 431.10,154.06 C431.54,154.08 431.98,154.17 432.43,154.32 C432.87,154.48 433.31,154.70 433.75,154.99 C434.19,155.27 434.63,155.63 435.07,156.05 C435.52,156.47 435.96,156.96 436.40,157.52 C436.84,158.07 437.28,158.70 437.73,159.39 C438.17,160.08 438.61,160.83 439.05,161.66 C439.49,162.48 439.93,163.37 440.38,164.33 C440.82,165.29 440.82,165.36 441.70,167.41 C442.58,169.45 445.00,175.06 445.66,176.59" fill="none" stroke="#1f3f9e" stroke-width="2.15" stroke-linejoin="round" stroke-linecap="butt" clip-path="url(#cp20)"/>
<path d="M430.76,14.14 C430.75,14.56 430.74,15.84 430.74,16.69 C430.73,17.54 430.72,18.40 430.72,19.25 C430.71,20.10 430.70,20.95 430.69,21.80 C430.68,22.65 430.67,23.51 430.66,24.36 C430.65,25.21 430.64,26.06 430.63,26.91 C430.62,27.76 430.61,28.62 430.60,29.47 C430.58,30.32 430.57,31.17 430.55,32.02 C430.54,32.87 430.52,33.73 430.51,34.58 C430.49,35.43 430.47,36.28 430.45,37.13 C430.43,37.98 430.41,38.84 430.39,39.69 C430.37,40.54 430.35,41.39 430.33,42.24 C430.30,43.09 430.28,43.95 430.25,44.80 C430.22,45.65 430.19,46.50 430.16,47.35 C430.13,48.20 430.10,49.06 430.07,49.91 C430.03,50.76 430.00,51.61 429.96,52.46 C429.92,53.31 429.89,54.17 429.84,55.02 C429.80,55.87 429.76,56.72 429.72,57.57 C429.67,58.42 429.62,59.28 429.57,60.13 C429.52,60.98 429.47,61.83 429.42,62.68 C429.36,63.53 429.31,64.39 429.25,65.24 C429.19,66.09 429.13,66.94 429.07,67.79 C429.00,68.65 428.94,69.50 428.87,70.35 C428.80,71.20 428.73,72.05 428.66,72.90 C428.59,73.76 428.51,74.61 428.43,75.46 C428.36,76.31 428.28,77.16 428.19,78.01 C428.11,78.87 428.02,79.72 427.94,80.57 C427.85,81.42 427.76,82.27 427.66,83.12 C427.57,83.98 427.47,84.83 427.37,85.68 C427.27,86.53 427.17,87.38 427.06,88.23 C426.95,89.09 426.84,89.94 426.73,90.79 C426.62,91.64 426.50,92.49 426.38,93.34 C426.26,94.20 426.13,95.05 426.01,95.90 C425.88,96.75 425.75,97.60 425.61,98.45 C425.47,99.31 425.33,100.16 425.19,101.01 C425.04,101.86 424.89,102.71 424.74,103.56 C424.58,104.42 424.42,105.27 424.26,106.12 C424.09,106.97 423.92,107.82 423.74,108.67 C423.57,109.53 423.38,110.38 423.19,111.23 C423.01,112.08 422.81,112.93 422.61,113.78 C422.41,114.64 422.20,115.49 421.98,116.34 C421.77,117.19 421.54,118.04 421.31,118.90 C421.08,119.75 420.84,120.60 420.59,121.45 C420.35,122.30 420.09,123.15 419.83,124.01 C419.56,124.86 419.29,125.71 419.01,126.56 C418.73,127.41 418.43,128.26 418.13,129.12 C417.83,129.97 417.52,130.82 417.19,131.67 C416.87,132.52 416.53,133.37 416.19,134.23 C415.84,135.08 415.48,135.93 415.11,136.78 C414.74,137.63 414.35,138.48 413.95,139.34 C413.56,140.19 413.14,141.04 412.72,141.89 C412.29,142.74 411.85,143.59 411.39,144.45 C410.93,145.30 410.45,146.15 409.96,147.00 C409.47,147.85 408.96,148.70 408.43,149.56 C407.90,150.41 407.35,151.26 406.78,152.11 C406.21,152.96 405.62,153.81 405.01,154.67 C404.40,155.52 403.76,156.37 403.10,157.22 C402.44,158.07 401.76,158.92 401.05,159.78 C400.33,160.63 399.60,161.48 398.83,162.33 C398.06,163.18 397.98,163.24 396.44,164.89 C394.90,166.53 390.74,170.97 389.60,172.19" fill="none" stroke="#8fc1ea" stroke-width="2.15" stroke-linejoin="round" stroke-linecap="butt" clip-path="url(#cp20)"/>
<path d="M430.75,25.97 C430.75,26.36 430.74,27.53 430.73,28.31 C430.73,29.08 430.72,29.86 430.71,30.64 C430.71,31.42 430.70,32.20 430.69,32.98 C430.68,33.75 430.67,34.53 430.67,35.31 C430.66,36.09 430.65,36.87 430.64,37.64 C430.63,38.42 430.62,39.20 430.61,39.98 C430.60,40.76 430.59,41.54 430.57,42.31 C430.56,43.09 430.55,43.87 430.54,44.65 C430.52,45.43 430.51,46.21 430.49,46.98 C430.48,47.76 430.46,48.54 430.45,49.32 C430.43,50.10 430.41,50.87 430.39,51.65 C430.38,52.43 430.36,53.21 430.34,53.99 C430.32,54.77 430.30,55.54 430.27,56.32 C430.25,57.10 430.23,57.88 430.20,58.66 C430.18,59.44 430.15,60.21 430.13,60.99 C430.10,61.77 430.07,62.55 430.04,63.33 C430.01,64.11 429.98,64.88 429.95,65.66 C429.91,66.44 429.88,67.22 429.84,68.00 C429.81,68.77 429.77,69.55 429.73,70.33 C429.69,71.11 429.65,71.89 429.61,72.67 C429.57,73.44 429.52,74.22 429.48,75.00 C429.43,75.78 429.38,76.56 429.33,77.34 C429.28,78.11 429.23,78.89 429.17,79.67 C429.12,80.45 429.06,81.23 429.00,82.00 C428.94,82.78 428.88,83.56 428.82,84.34 C428.75,85.12 428.69,85.90 428.62,86.67 C428.55,87.45 428.48,88.23 428.41,89.01 C428.33,89.79 428.26,90.57 428.18,91.34 C428.10,92.12 428.02,92.90 427.94,93.68 C427.85,94.46 427.77,95.24 427.68,96.01 C427.59,96.79 427.50,97.57 427.40,98.35 C427.31,99.13 427.21,99.90 427.11,100.68 C427.02,101.46 426.91,102.24 426.81,103.02 C426.71,103.80 426.60,104.57 426.49,105.35 C426.38,106.13 426.27,106.91 426.16,107.69 C426.05,108.47 425.93,109.24 425.82,110.02 C425.70,110.80 425.58,111.58 425.46,112.36 C425.34,113.13 425.21,113.91 425.08,114.69 C424.96,115.47 424.83,116.25 424.70,117.03 C424.57,117.80 424.44,118.58 424.30,119.36 C424.17,120.14 424.03,120.92 423.89,121.70 C423.75,122.47 423.61,123.25 423.46,124.03 C423.32,124.81 423.17,125.59 423.02,126.36 C422.88,127.14 422.72,127.92 422.57,128.70 C422.42,129.48 422.26,130.26 422.10,131.03 C421.94,131.81 421.78,132.59 421.62,133.37 C421.45,134.15 421.29,134.93 421.12,135.70 C420.95,136.48 420.78,137.26 420.60,138.04 C420.43,138.82 420.25,139.60 420.07,140.37 C419.89,141.15 419.70,141.93 419.51,142.71 C419.32,143.49 419.13,144.26 418.94,145.04 C418.74,145.82 418.54,146.60 418.34,147.38 C418.14,148.16 417.93,148.93 417.72,149.71 C417.51,150.49 417.29,151.27 417.07,152.05 C416.85,152.83 416.62,153.60 416.39,154.38 C416.16,155.16 415.93,155.94 415.68,156.72 C415.44,157.49 415.20,158.27 414.94,159.05 C414.69,159.83 414.43,160.61 414.16,161.39 C413.89,162.16 414.03,161.76 413.33,163.72 C412.64,165.68 410.56,171.58 410.00,173.15" fill="none" stroke="#d42a86" stroke-width="2.15" stroke-linejoin="round" stroke-linecap="butt" clip-path="url(#cp20)"/>
<path d="M431.73,0.13 C431.74,0.60 431.77,2.02 431.79,2.96 C431.81,3.91 431.83,4.85 431.85,5.80 C431.88,6.74 431.90,7.69 431.93,8.63 C431.95,9.57 431.98,10.52 432.00,11.46 C432.03,12.41 432.06,13.35 432.09,14.30 C432.12,15.24 432.15,16.18 432.18,17.13 C432.21,18.07 432.25,19.02 432.28,19.96 C432.32,20.91 432.35,21.85 432.39,22.79 C432.43,23.74 432.47,24.68 432.51,25.63 C432.55,26.57 432.60,27.52 432.64,28.46 C432.69,29.41 432.74,30.35 432.79,31.29 C432.84,32.24 432.89,33.18 432.94,34.13 C433.00,35.07 433.05,36.02 433.11,36.96 C433.17,37.90 433.24,38.85 433.30,39.79 C433.37,40.74 433.43,41.68 433.50,42.63 C433.57,43.57 433.65,44.51 433.72,45.46 C433.80,46.40 433.88,47.35 433.97,48.29 C434.05,49.24 434.14,50.18 434.23,51.13 C434.32,52.07 434.41,53.01 434.51,53.96 C434.61,54.90 434.71,55.85 434.82,56.79 C434.93,57.74 435.04,58.68 435.16,59.62 C435.28,60.57 435.40,61.51 435.52,62.46 C435.65,63.40 435.78,64.35 435.92,65.29 C436.06,66.23 436.20,67.18 436.35,68.12 C436.49,69.07 436.65,70.01 436.81,70.96 C436.97,71.90 437.13,72.85 437.31,73.79 C437.48,74.73 437.66,75.68 437.84,76.62 C438.03,77.57 438.22,78.51 438.42,79.46 C438.62,80.40 438.83,81.34 439.04,82.29 C439.26,83.23 439.48,84.18 439.71,85.12 C439.94,86.07 440.18,87.01 440.43,87.95 C440.68,88.90 440.93,89.84 441.19,90.79 C441.46,91.73 441.73,92.68 442.01,93.62 C442.29,94.57 442.58,95.51 442.88,96.45 C443.18,97.40 443.49,98.34 443.81,99.29 C444.12,100.23 444.45,101.18 444.79,102.12 C445.13,103.06 445.47,104.01 445.83,104.95 C446.18,105.90 446.55,106.84 446.92,107.79 C447.30,108.73 447.68,109.67 448.08,110.62 C448.47,111.56 448.88,112.51 449.29,113.45 C449.70,114.40 450.13,115.34 450.56,116.29 C450.99,117.23 451.43,118.17 451.88,119.12 C452.33,120.06 452.79,121.01 453.26,121.95 C453.73,122.90 454.21,123.84 454.69,124.78 C455.18,125.73 455.67,126.67 456.17,127.62 C456.67,128.56 457.17,129.51 457.69,130.45 C458.20,131.40 458.72,132.34 459.24,133.28 C459.77,134.23 460.30,135.17 460.83,136.12 C461.36,137.06 461.90,138.01 462.44,138.95 C462.98,139.89 463.53,140.84 464.07,141.78 C464.62,142.73 465.16,143.67 465.71,144.62 C466.26,145.56 466.80,146.50 467.35,147.45 C467.89,148.39 468.43,149.34 468.97,150.28 C469.51,151.23 470.05,152.17 470.57,153.12 C471.10,154.06 471.63,155.00 472.14,155.95 C472.66,156.89 473.17,157.84 473.67,158.78 C474.16,159.73 474.65,160.67 475.13,161.61 C475.60,162.56 476.07,163.50 476.52,164.45 C476.97,165.39 476.91,165.29 477.82,167.28 C478.74,169.27 481.31,174.85 482.00,176.36" fill="none" stroke="#6a0d1c" stroke-width="2.15" stroke-linejoin="round" stroke-linecap="butt" clip-path="url(#cp20)"/>
<path d="M430.76,-15.37 C430.76,-14.91 430.76,-13.52 430.76,-12.59 C430.76,-11.67 430.76,-10.74 430.76,-9.81 C430.76,-8.89 430.75,-7.96 430.75,-7.03 C430.74,-6.11 430.74,-5.18 430.73,-4.25 C430.73,-3.33 430.72,-2.40 430.71,-1.47 C430.70,-0.55 430.69,0.38 430.68,1.31 C430.66,2.23 430.65,3.16 430.63,4.09 C430.61,5.01 430.59,5.94 430.57,6.87 C430.55,7.79 430.53,8.72 430.50,9.65 C430.47,10.57 430.44,11.50 430.40,12.43 C430.37,13.35 430.33,14.28 430.29,15.20 C430.25,16.13 430.20,17.06 430.15,17.98 C430.10,18.91 430.05,19.84 430.00,20.76 C429.94,21.69 429.89,22.62 429.83,23.54 C429.77,24.47 429.71,25.40 429.65,26.32 C429.58,27.25 429.52,28.18 429.45,29.10 C429.39,30.03 429.32,30.96 429.25,31.88 C429.18,32.81 429.11,33.74 429.04,34.66 C428.96,35.59 428.89,36.52 428.82,37.44 C428.75,38.37 428.67,39.30 428.60,40.22 C428.52,41.15 428.45,42.07 428.37,43.00 C428.29,43.93 428.22,44.85 428.14,45.78 C428.06,46.71 427.98,47.63 427.90,48.56 C427.82,49.49 427.74,50.41 427.66,51.34 C427.58,52.27 427.50,53.19 427.41,54.12 C427.33,55.05 427.24,55.97 427.15,56.90 C427.06,57.83 426.97,58.75 426.87,59.68 C426.78,60.61 426.68,61.53 426.58,62.46 C426.48,63.39 426.37,64.31 426.27,65.24 C426.16,66.17 426.05,67.09 425.94,68.02 C425.82,68.95 425.70,69.87 425.58,70.80 C425.46,71.72 425.34,72.65 425.21,73.58 C425.08,74.50 424.94,75.43 424.80,76.36 C424.66,77.28 424.52,78.21 424.37,79.14 C424.22,80.06 424.06,80.99 423.90,81.92 C423.74,82.84 423.57,83.77 423.39,84.70 C423.22,85.62 423.03,86.55 422.84,87.48 C422.65,88.40 422.45,89.33 422.24,90.26 C422.03,91.18 421.82,92.11 421.59,93.04 C421.36,93.96 421.12,94.89 420.87,95.82 C420.61,96.74 420.35,97.67 420.07,98.59 C419.79,99.52 419.50,100.45 419.19,101.37 C418.89,102.30 418.56,103.23 418.22,104.15 C417.88,105.08 417.52,106.01 417.14,106.93 C416.75,107.86 416.36,108.79 415.93,109.71 C415.51,110.64 415.07,111.57 414.60,112.49 C414.13,113.42 413.64,114.35 413.11,115.27 C412.59,116.20 412.05,117.13 411.47,118.05 C410.89,118.98 410.29,119.91 409.64,120.83 C409.00,121.76 408.33,122.69 407.62,123.61 C406.91,124.54 406.17,125.46 405.38,126.39 C404.59,127.32 403.77,128.24 402.90,129.17 C402.03,130.10 401.12,131.02 400.15,131.95 C399.19,132.88 398.18,133.80 397.12,134.73 C396.05,135.66 394.94,136.58 393.77,137.51 C392.59,138.44 391.36,139.36 390.07,140.29 C388.77,141.22 387.42,142.14 385.99,143.07 C384.56,144.00 383.07,144.92 381.50,145.85 C379.93,146.78 377.39,148.17 376.57,148.63" fill="none" stroke="#e98c35" stroke-width="2.15" stroke-linejoin="round" stroke-linecap="butt" clip-path="url(#cp20)"/>
<clipPath id="cp01"><rect x="44.5" y="196.9" width="133.0" height="162.0"/></clipPath>
<path d="M44.60,351.50 C45.92,350.35 50.14,346.27 52.50,344.60 C54.86,342.93 56.25,342.23 58.75,341.50 C61.25,340.77 64.79,340.25 67.50,340.25 C70.21,340.25 72.71,340.88 75.00,341.50 C77.29,342.12 78.75,343.07 81.25,344.00 C83.75,344.93 87.25,346.27 90.00,347.10 C92.75,347.93 96.46,348.68 97.75,349.00" fill="none" stroke="#36ad3a" stroke-width="2.15" stroke-linejoin="round" stroke-linecap="butt" clip-path="url(#cp01)"/>
<path d="M114.59,365.03 C115.87,363.96 119.52,360.90 122.25,358.60 C124.98,356.30 128.29,353.42 131.00,351.25 C133.71,349.08 136.21,347.27 138.50,345.60 C140.79,343.93 142.46,342.23 144.75,341.25 C147.04,340.27 149.75,339.75 152.25,339.75 C154.75,339.75 157.71,340.68 159.75,341.25 C161.79,341.82 163.36,342.57 164.50,343.20 C165.64,343.82 166.13,344.03 166.60,345.00 C167.07,345.97 167.15,346.73 167.30,349.00 C167.45,351.27 167.43,355.33 167.50,358.60 C167.57,361.87 167.67,366.93 167.71,368.60" fill="none" stroke="#36ad3a" stroke-width="2.15" stroke-linejoin="round" stroke-linecap="butt" clip-path="url(#cp01)"/>
<path d="M81.75,367.65 C82.46,366.14 85.05,360.63 86.00,358.60 C86.95,356.57 86.98,356.44 87.47,355.47 C87.96,354.50 88.45,353.59 88.94,352.76 C89.43,351.93 89.92,351.16 90.41,350.46 C90.90,349.77 91.39,349.14 91.88,348.59 C92.36,348.03 92.85,347.54 93.34,347.13 C93.83,346.71 94.32,346.36 94.81,346.08 C95.30,345.81 95.79,345.60 96.28,345.46 C96.77,345.32 97.26,345.25 97.75,345.25 C98.24,345.25 98.73,345.32 99.22,345.46 C99.71,345.60 100.20,345.81 100.69,346.08 C101.18,346.36 101.67,346.71 102.16,347.13 C102.65,347.54 103.14,348.03 103.62,348.59 C104.11,349.14 104.60,349.77 105.09,350.46 C105.58,351.16 106.07,351.93 106.56,352.76 C107.05,353.59 107.54,354.50 108.03,355.47 C108.52,356.44 108.55,356.57 109.50,358.60 C110.45,360.63 113.04,366.14 113.75,367.65" fill="none" stroke="#1f3f9e" stroke-width="2.15" stroke-linejoin="round" stroke-linecap="butt" clip-path="url(#cp01)"/>
<path d="M97.75,208.00 C97.75,208.43 97.74,209.70 97.73,210.55 C97.72,211.40 97.71,212.25 97.70,213.11 C97.69,213.96 97.68,214.81 97.67,215.66 C97.66,216.51 97.64,217.36 97.63,218.21 C97.62,219.06 97.61,219.91 97.60,220.76 C97.58,221.61 97.57,222.46 97.56,223.32 C97.54,224.17 97.53,225.02 97.51,225.87 C97.50,226.72 97.48,227.57 97.47,228.42 C97.45,229.27 97.43,230.12 97.42,230.97 C97.40,231.82 97.38,232.67 97.36,233.53 C97.34,234.38 97.32,235.23 97.30,236.08 C97.28,236.93 97.26,237.78 97.24,238.63 C97.22,239.48 97.19,240.33 97.17,241.18 C97.14,242.03 97.12,242.88 97.09,243.74 C97.06,244.59 97.03,245.44 97.00,246.29 C96.97,247.14 96.94,247.99 96.90,248.84 C96.87,249.69 96.83,250.54 96.79,251.39 C96.75,252.24 96.71,253.09 96.67,253.95 C96.63,254.80 96.58,255.65 96.53,256.50 C96.48,257.35 96.43,258.20 96.38,259.05 C96.33,259.90 96.27,260.75 96.21,261.60 C96.15,262.45 96.09,263.31 96.02,264.16 C95.96,265.01 95.89,265.86 95.81,266.71 C95.74,267.56 95.67,268.41 95.59,269.26 C95.51,270.11 95.42,270.96 95.33,271.81 C95.24,272.66 95.15,273.52 95.06,274.37 C94.96,275.22 94.86,276.07 94.75,276.92 C94.65,277.77 94.54,278.62 94.42,279.47 C94.30,280.32 94.18,281.17 94.06,282.02 C93.93,282.87 93.80,283.73 93.66,284.58 C93.52,285.43 93.38,286.28 93.23,287.13 C93.08,287.98 92.93,288.83 92.77,289.68 C92.60,290.53 92.44,291.38 92.26,292.23 C92.09,293.08 91.91,293.94 91.72,294.79 C91.53,295.64 91.34,296.49 91.13,297.34 C90.93,298.19 90.72,299.04 90.51,299.89 C90.29,300.74 90.07,301.59 89.84,302.44 C89.61,303.29 89.37,304.15 89.13,305.00 C88.88,305.85 88.63,306.70 88.37,307.55 C88.11,308.40 87.84,309.25 87.56,310.10 C87.29,310.95 87.00,311.80 86.71,312.65 C86.41,313.51 86.11,314.36 85.80,315.21 C85.48,316.06 85.16,316.91 84.83,317.76 C84.50,318.61 84.15,319.46 83.80,320.31 C83.45,321.16 83.08,322.01 82.71,322.86 C82.34,323.72 81.95,324.57 81.55,325.42 C81.15,326.27 80.75,327.12 80.32,327.97 C79.90,328.82 79.47,329.67 79.02,330.52 C78.57,331.37 78.11,332.22 77.63,333.07 C77.15,333.93 76.66,334.78 76.16,335.63 C75.65,336.48 75.13,337.33 74.59,338.18 C74.05,339.03 73.50,339.88 72.92,340.73 C72.35,341.58 71.75,342.43 71.14,343.28 C70.53,344.14 69.90,344.99 69.25,345.84 C68.59,346.69 67.92,347.54 67.22,348.39 C66.52,349.24 65.80,350.09 65.05,350.94 C64.30,351.79 63.53,352.64 62.73,353.49 C61.93,354.35 61.10,355.20 60.24,356.05 C59.38,356.90 59.22,357.02 57.57,358.60 C55.92,360.18 51.54,364.35 50.34,365.51" fill="none" stroke="#8fc1ea" stroke-width="2.15" stroke-linejoin="round" stroke-linecap="butt" clip-path="url(#cp01)"/>
<path d="M97.74,222.00 C97.74,222.39 97.73,223.54 97.72,224.32 C97.71,225.09 97.70,225.86 97.69,226.63 C97.68,227.40 97.67,228.17 97.66,228.95 C97.65,229.72 97.64,230.49 97.63,231.26 C97.61,232.03 97.60,232.80 97.59,233.58 C97.57,234.35 97.56,235.12 97.54,235.89 C97.53,236.66 97.51,237.44 97.49,238.21 C97.48,238.98 97.46,239.75 97.44,240.52 C97.42,241.29 97.40,242.07 97.38,242.84 C97.36,243.61 97.33,244.38 97.31,245.15 C97.29,245.92 97.26,246.70 97.24,247.47 C97.21,248.24 97.18,249.01 97.15,249.78 C97.12,250.55 97.09,251.33 97.06,252.10 C97.03,252.87 97.00,253.64 96.96,254.41 C96.93,255.19 96.89,255.96 96.85,256.73 C96.82,257.50 96.78,258.27 96.73,259.04 C96.69,259.82 96.65,260.59 96.61,261.36 C96.56,262.13 96.51,262.90 96.46,263.67 C96.42,264.45 96.36,265.22 96.31,265.99 C96.26,266.76 96.20,267.53 96.15,268.31 C96.09,269.08 96.03,269.85 95.97,270.62 C95.90,271.39 95.84,272.16 95.77,272.94 C95.71,273.71 95.64,274.48 95.57,275.25 C95.49,276.02 95.42,276.79 95.34,277.57 C95.27,278.34 95.19,279.11 95.10,279.88 C95.02,280.65 94.94,281.42 94.85,282.20 C94.76,282.97 94.67,283.74 94.58,284.51 C94.48,285.28 94.39,286.06 94.29,286.83 C94.19,287.60 94.09,288.37 93.98,289.14 C93.88,289.91 93.77,290.69 93.66,291.46 C93.55,292.23 93.44,293.00 93.32,293.77 C93.20,294.54 93.08,295.32 92.96,296.09 C92.84,296.86 92.71,297.63 92.58,298.40 C92.45,299.18 92.32,299.95 92.18,300.72 C92.05,301.49 91.91,302.26 91.77,303.03 C91.63,303.81 91.48,304.58 91.34,305.35 C91.19,306.12 91.04,306.89 90.89,307.66 C90.73,308.44 90.58,309.21 90.42,309.98 C90.26,310.75 90.10,311.52 89.93,312.29 C89.77,313.07 89.60,313.84 89.43,314.61 C89.26,315.38 89.09,316.15 88.91,316.93 C88.73,317.70 88.56,318.47 88.37,319.24 C88.19,320.01 88.01,320.78 87.82,321.56 C87.64,322.33 87.45,323.10 87.26,323.87 C87.07,324.64 86.87,325.41 86.68,326.19 C86.48,326.96 86.28,327.73 86.08,328.50 C85.88,329.27 85.68,330.05 85.47,330.82 C85.27,331.59 85.06,332.36 84.85,333.13 C84.64,333.90 84.43,334.68 84.22,335.45 C84.01,336.22 83.79,336.99 83.58,337.76 C83.36,338.53 83.14,339.31 82.92,340.08 C82.71,340.85 82.48,341.62 82.26,342.39 C82.04,343.16 81.82,343.94 81.59,344.71 C81.37,345.48 81.14,346.25 80.92,347.02 C80.69,347.80 80.46,348.57 80.24,349.34 C80.01,350.11 79.78,350.88 79.55,351.65 C79.32,352.43 79.09,353.20 78.86,353.97 C78.63,354.74 78.40,355.51 78.16,356.28 C77.93,357.06 78.06,356.62 77.47,358.60 C76.87,360.58 75.07,366.58 74.59,368.18" fill="none" stroke="#d42a86" stroke-width="2.15" stroke-linejoin="round" stroke-linecap="butt" clip-path="url(#cp01)"/>
<path d="M98.72,192.20 C98.73,192.67 98.78,194.08 98.81,195.02 C98.84,195.96 98.87,196.90 98.90,197.84 C98.94,198.78 98.97,199.72 99.00,200.66 C99.04,201.60 99.07,202.54 99.11,203.48 C99.15,204.42 99.19,205.36 99.22,206.30 C99.26,207.24 99.30,208.18 99.34,209.12 C99.38,210.06 99.42,211.00 99.47,211.94 C99.51,212.88 99.55,213.82 99.60,214.76 C99.64,215.70 99.69,216.64 99.73,217.58 C99.78,218.52 99.83,219.46 99.88,220.40 C99.93,221.34 99.98,222.28 100.03,223.22 C100.08,224.16 100.13,225.10 100.19,226.04 C100.24,226.98 100.30,227.92 100.36,228.86 C100.42,229.80 100.48,230.74 100.54,231.68 C100.60,232.62 100.66,233.56 100.73,234.51 C100.79,235.45 100.86,236.39 100.93,237.33 C101.00,238.27 101.07,239.21 101.15,240.15 C101.22,241.09 101.30,242.03 101.38,242.97 C101.46,243.91 101.54,244.85 101.63,245.79 C101.72,246.73 101.81,247.67 101.91,248.61 C102.00,249.55 102.10,250.49 102.21,251.43 C102.31,252.37 102.42,253.31 102.53,254.25 C102.65,255.19 102.77,256.13 102.90,257.07 C103.02,258.01 103.16,258.95 103.30,259.89 C103.44,260.83 103.59,261.77 103.74,262.71 C103.90,263.65 104.06,264.59 104.23,265.53 C104.40,266.47 104.58,267.41 104.77,268.35 C104.96,269.29 105.16,270.23 105.36,271.17 C105.57,272.11 105.79,273.05 106.01,273.99 C106.24,274.93 106.48,275.87 106.73,276.81 C106.98,277.75 107.24,278.69 107.51,279.63 C107.78,280.57 108.06,281.51 108.36,282.45 C108.66,283.39 108.97,284.33 109.29,285.27 C109.61,286.21 109.95,287.15 110.30,288.09 C110.65,289.03 111.01,289.97 111.39,290.91 C111.77,291.85 112.16,292.79 112.57,293.73 C112.98,294.67 113.40,295.61 113.84,296.55 C114.28,297.49 114.74,298.43 115.21,299.37 C115.68,300.31 116.16,301.25 116.67,302.19 C117.17,303.13 117.68,304.07 118.22,305.01 C118.75,305.95 119.30,306.89 119.86,307.83 C120.42,308.77 121.00,309.71 121.59,310.65 C122.18,311.59 122.78,312.53 123.40,313.47 C124.01,314.41 124.64,315.35 125.28,316.29 C125.92,317.24 126.57,318.18 127.23,319.12 C127.88,320.06 128.55,321.00 129.22,321.94 C129.89,322.88 130.57,323.82 131.25,324.76 C131.93,325.70 132.61,326.64 133.29,327.58 C133.97,328.52 134.66,329.46 135.33,330.40 C136.01,331.34 136.68,332.28 137.34,333.22 C138.00,334.16 138.65,335.10 139.29,336.04 C139.93,336.98 140.55,337.92 141.16,338.86 C141.76,339.80 142.35,340.74 142.91,341.68 C143.46,342.62 144.00,343.56 144.51,344.50 C145.01,345.44 145.49,346.38 145.94,347.32 C146.38,348.26 146.79,349.20 147.15,350.14 C147.52,351.08 147.85,352.02 148.13,352.96 C148.42,353.90 148.66,354.84 148.85,355.78 C149.04,356.72 148.96,356.48 149.28,358.60 C149.60,360.72 150.53,366.84 150.78,368.49" fill="none" stroke="#6a0d1c" stroke-width="2.15" stroke-linejoin="round" stroke-linecap="butt" clip-path="url(#cp01)"/>
<path d="M97.75,176.00 C97.75,176.50 97.76,177.99 97.76,178.99 C97.76,179.99 97.76,180.99 97.76,181.98 C97.76,182.98 97.75,183.98 97.75,184.97 C97.74,185.97 97.73,186.97 97.72,187.97 C97.72,188.96 97.70,189.96 97.69,190.96 C97.68,191.95 97.67,192.95 97.65,193.95 C97.63,194.95 97.62,195.94 97.60,196.94 C97.58,197.94 97.55,198.94 97.53,199.93 C97.51,200.93 97.49,201.93 97.46,202.92 C97.44,203.92 97.42,204.92 97.39,205.92 C97.36,206.91 97.34,207.91 97.31,208.91 C97.28,209.90 97.26,210.90 97.23,211.90 C97.20,212.90 97.17,213.89 97.13,214.89 C97.10,215.89 97.06,216.88 97.03,217.88 C96.99,218.88 96.95,219.88 96.90,220.87 C96.86,221.87 96.81,222.87 96.75,223.86 C96.70,224.86 96.64,225.86 96.58,226.86 C96.52,227.85 96.45,228.85 96.38,229.85 C96.31,230.84 96.24,231.84 96.16,232.84 C96.09,233.84 96.00,234.83 95.92,235.83 C95.84,236.83 95.76,237.82 95.67,238.82 C95.59,239.82 95.51,240.82 95.42,241.81 C95.33,242.81 95.24,243.81 95.16,244.81 C95.07,245.80 94.98,246.80 94.88,247.80 C94.79,248.79 94.70,249.79 94.60,250.79 C94.50,251.79 94.40,252.78 94.29,253.78 C94.19,254.78 94.08,255.77 93.97,256.77 C93.85,257.77 93.73,258.77 93.61,259.76 C93.48,260.76 93.34,261.76 93.20,262.75 C93.06,263.75 92.91,264.75 92.74,265.75 C92.58,266.74 92.41,267.74 92.23,268.74 C92.05,269.73 91.86,270.73 91.66,271.73 C91.46,272.73 91.25,273.72 91.03,274.72 C90.81,275.72 90.57,276.71 90.33,277.71 C90.08,278.71 89.83,279.71 89.56,280.70 C89.29,281.70 89.00,282.70 88.71,283.69 C88.41,284.69 88.11,285.69 87.79,286.69 C87.46,287.68 87.13,288.68 86.79,289.68 C86.44,290.68 86.08,291.67 85.71,292.67 C85.34,293.67 84.96,294.66 84.56,295.66 C84.17,296.66 83.77,297.66 83.35,298.65 C82.94,299.65 82.51,300.65 82.08,301.64 C81.64,302.64 81.20,303.64 80.74,304.64 C80.28,305.63 79.82,306.63 79.34,307.63 C78.86,308.62 78.37,309.62 77.87,310.62 C77.37,311.62 76.85,312.61 76.33,313.61 C75.80,314.61 75.26,315.60 74.71,316.60 C74.15,317.60 73.59,318.60 73.00,319.59 C72.42,320.59 71.83,321.59 71.21,322.58 C70.60,323.58 69.97,324.58 69.32,325.58 C68.67,326.57 68.00,327.57 67.32,328.57 C66.63,329.56 65.92,330.56 65.19,331.56 C64.46,332.56 63.71,333.55 62.93,334.55 C62.14,335.55 61.34,336.55 60.50,337.54 C59.67,338.54 58.80,339.54 57.90,340.53 C57.00,341.53 56.07,342.53 55.10,343.53 C54.13,344.52 53.12,345.52 52.07,346.52 C51.01,347.51 49.92,348.51 48.77,349.51 C47.62,350.51 45.76,352.00 45.16,352.50" fill="none" stroke="#e98c35" stroke-width="2.15" stroke-linejoin="round" stroke-linecap="butt" clip-path="url(#cp01)"/>
<clipPath id="cp11"><rect x="211.0" y="196.9" width="133.0" height="162.0"/></clipPath>
<path d="M211.10,410.08 C212.42,408.93 216.64,404.85 219.00,403.18 C221.36,401.51 222.75,400.80 225.25,400.08 C227.75,399.35 231.29,398.83 234.00,398.83 C236.71,398.83 239.21,399.45 241.50,400.08 C243.79,400.70 245.25,401.65 247.75,402.58 C250.25,403.51 253.75,404.85 256.50,405.68 C259.25,406.51 262.96,407.26 264.25,407.58" fill="none" stroke="#36ad3a" stroke-width="2.15" stroke-linejoin="round" stroke-linecap="butt" clip-path="url(#cp11)"/>
<path d="M281.09,423.61 C282.37,422.54 286.02,419.48 288.75,417.18 C291.48,414.88 294.79,412.00 297.50,409.83 C300.21,407.66 302.71,405.85 305.00,404.18 C307.29,402.51 308.96,400.80 311.25,399.83 C313.54,398.85 316.25,398.33 318.75,398.33 C321.25,398.33 324.21,399.25 326.25,399.83 C328.29,400.40 329.86,401.15 331.00,401.78 C332.14,402.40 332.63,402.61 333.10,403.58 C333.57,404.55 333.65,405.31 333.80,407.58 C333.95,409.85 333.93,413.91 334.00,417.18 C334.07,420.44 334.17,425.51 334.21,427.18" fill="none" stroke="#36ad3a" stroke-width="2.15" stroke-linejoin="round" stroke-linecap="butt" clip-path="url(#cp11)"/>
<path d="M248.25,436.71 C248.96,435.20 251.55,429.69 252.50,427.66 C253.45,425.63 253.48,425.50 253.97,424.53 C254.46,423.56 254.95,422.65 255.44,421.82 C255.93,420.98 256.42,420.22 256.91,419.52 C257.40,418.83 257.89,418.20 258.38,417.65 C258.86,417.09 259.35,416.60 259.84,416.19 C260.33,415.77 260.82,415.42 261.31,415.14 C261.80,414.87 262.29,414.66 262.78,414.52 C263.27,414.38 263.76,414.31 264.25,414.31 C264.74,414.31 265.23,414.38 265.72,414.52 C266.21,414.66 266.70,414.87 267.19,415.14 C267.68,415.42 268.17,415.77 268.66,416.19 C269.15,416.60 269.64,417.09 270.12,417.65 C270.61,418.20 271.10,418.83 271.59,419.52 C272.08,420.22 272.57,420.98 273.06,421.82 C273.55,422.65 274.04,423.56 274.53,424.53 C275.02,425.50 275.05,425.63 276.00,427.66 C276.95,429.69 279.54,435.20 280.25,436.71" fill="none" stroke="#1f3f9e" stroke-width="2.15" stroke-linejoin="round" stroke-linecap="butt" clip-path="url(#cp11)"/>
<path d="M265.22,255.69 C265.23,256.16 265.28,257.57 265.31,258.51 C265.34,259.45 265.37,260.39 265.40,261.33 C265.44,262.27 265.47,263.21 265.50,264.15 C265.54,265.09 265.57,266.03 265.61,266.97 C265.65,267.91 265.69,268.85 265.72,269.79 C265.76,270.73 265.80,271.67 265.84,272.61 C265.88,273.55 265.92,274.49 265.97,275.43 C266.01,276.37 266.05,277.31 266.10,278.25 C266.14,279.19 266.19,280.13 266.23,281.07 C266.28,282.01 266.33,282.95 266.38,283.89 C266.43,284.83 266.48,285.77 266.53,286.71 C266.58,287.65 266.63,288.59 266.69,289.53 C266.74,290.47 266.80,291.41 266.86,292.35 C266.92,293.29 266.98,294.23 267.04,295.17 C267.10,296.11 267.16,297.06 267.23,298.00 C267.29,298.94 267.36,299.88 267.43,300.82 C267.50,301.76 267.57,302.70 267.65,303.64 C267.72,304.58 267.80,305.52 267.88,306.46 C267.96,307.40 268.04,308.34 268.13,309.28 C268.22,310.22 268.31,311.16 268.41,312.10 C268.50,313.04 268.60,313.98 268.71,314.92 C268.81,315.86 268.92,316.80 269.03,317.74 C269.15,318.68 269.27,319.62 269.40,320.56 C269.52,321.50 269.66,322.44 269.80,323.38 C269.94,324.32 270.09,325.26 270.24,326.20 C270.40,327.14 270.56,328.08 270.73,329.02 C270.90,329.96 271.08,330.90 271.27,331.84 C271.46,332.78 271.66,333.72 271.86,334.66 C272.07,335.60 272.29,336.54 272.51,337.48 C272.74,338.42 272.98,339.36 273.23,340.30 C273.48,341.24 273.74,342.18 274.01,343.12 C274.28,344.06 274.56,345.00 274.86,345.94 C275.16,346.88 275.47,347.82 275.79,348.76 C276.11,349.70 276.45,350.64 276.80,351.58 C277.15,352.52 277.51,353.46 277.89,354.40 C278.27,355.34 278.66,356.28 279.07,357.22 C279.48,358.16 279.90,359.10 280.34,360.04 C280.78,360.98 281.24,361.92 281.71,362.86 C282.18,363.80 282.66,364.74 283.17,365.68 C283.67,366.62 284.18,367.56 284.72,368.50 C285.25,369.44 285.80,370.38 286.36,371.32 C286.92,372.26 287.50,373.20 288.09,374.14 C288.68,375.08 289.28,376.02 289.90,376.96 C290.51,377.90 291.14,378.84 291.78,379.79 C292.42,380.73 293.07,381.67 293.73,382.61 C294.38,383.55 295.05,384.49 295.72,385.43 C296.39,386.37 297.07,387.31 297.75,388.25 C298.43,389.19 299.11,390.13 299.79,391.07 C300.47,392.01 301.16,392.95 301.83,393.89 C302.51,394.83 303.18,395.77 303.84,396.71 C304.50,397.65 305.15,398.59 305.79,399.53 C306.43,400.47 307.05,401.41 307.66,402.35 C308.26,403.29 308.85,404.23 309.41,405.17 C309.96,406.11 310.50,407.05 311.01,407.99 C311.51,408.93 311.99,409.87 312.44,410.81 C312.88,411.75 313.29,412.69 313.65,413.63 C314.02,414.57 314.35,415.51 314.63,416.45 C314.92,417.39 315.16,418.33 315.35,419.27 C315.54,420.21 315.46,419.97 315.78,422.09 C316.10,424.21 317.03,430.33 317.28,431.98" fill="none" stroke="#6a0d1c" stroke-width="2.15" stroke-linejoin="round" stroke-linecap="butt" clip-path="url(#cp11)"/>
<path d="M264.25,238.48 C264.25,238.90 264.24,240.18 264.23,241.03 C264.22,241.88 264.21,242.73 264.20,243.58 C264.19,244.43 264.18,245.28 264.17,246.13 C264.16,246.99 264.14,247.84 264.13,248.69 C264.12,249.54 264.11,250.39 264.10,251.24 C264.08,252.09 264.07,252.94 264.06,253.79 C264.04,254.64 264.03,255.49 264.01,256.35 C264.00,257.20 263.98,258.05 263.97,258.90 C263.95,259.75 263.93,260.60 263.92,261.45 C263.90,262.30 263.88,263.15 263.86,264.00 C263.84,264.85 263.82,265.70 263.80,266.56 C263.78,267.41 263.76,268.26 263.74,269.11 C263.72,269.96 263.69,270.81 263.67,271.66 C263.64,272.51 263.62,273.36 263.59,274.21 C263.56,275.06 263.53,275.91 263.50,276.77 C263.47,277.62 263.44,278.47 263.40,279.32 C263.37,280.17 263.33,281.02 263.29,281.87 C263.25,282.72 263.21,283.57 263.17,284.42 C263.13,285.27 263.08,286.12 263.03,286.98 C262.98,287.83 262.93,288.68 262.88,289.53 C262.83,290.38 262.77,291.23 262.71,292.08 C262.65,292.93 262.59,293.78 262.52,294.63 C262.46,295.48 262.39,296.33 262.31,297.19 C262.24,298.04 262.17,298.89 262.09,299.74 C262.01,300.59 261.92,301.44 261.83,302.29 C261.74,303.14 261.65,303.99 261.56,304.84 C261.46,305.69 261.36,306.55 261.25,307.40 C261.15,308.25 261.04,309.10 260.92,309.95 C260.80,310.80 260.68,311.65 260.56,312.50 C260.43,313.35 260.30,314.20 260.16,315.05 C260.02,315.90 259.88,316.76 259.73,317.61 C259.58,318.46 259.43,319.31 259.27,320.16 C259.10,321.01 258.94,321.86 258.76,322.71 C258.59,323.56 258.41,324.41 258.22,325.26 C258.03,326.11 257.84,326.97 257.63,327.82 C257.43,328.67 257.22,329.52 257.01,330.37 C256.79,331.22 256.57,332.07 256.34,332.92 C256.11,333.77 255.87,334.62 255.63,335.47 C255.38,336.32 255.13,337.18 254.87,338.03 C254.61,338.88 254.34,339.73 254.06,340.58 C253.79,341.43 253.50,342.28 253.21,343.13 C252.91,343.98 252.61,344.83 252.30,345.68 C251.98,346.53 251.66,347.39 251.33,348.24 C251.00,349.09 250.65,349.94 250.30,350.79 C249.95,351.64 249.58,352.49 249.21,353.34 C248.84,354.19 248.45,355.04 248.05,355.89 C247.65,356.75 247.25,357.60 246.82,358.45 C246.40,359.30 245.97,360.15 245.52,361.00 C245.07,361.85 244.61,362.70 244.13,363.55 C243.65,364.40 243.16,365.25 242.66,366.10 C242.15,366.96 241.63,367.81 241.09,368.66 C240.55,369.51 240.00,370.36 239.42,371.21 C238.85,372.06 238.25,372.91 237.64,373.76 C237.03,374.61 236.40,375.46 235.75,376.31 C235.09,377.17 234.42,378.02 233.72,378.87 C233.02,379.72 232.30,380.57 231.55,381.42 C230.80,382.27 230.03,383.12 229.23,383.97 C228.43,384.82 227.60,385.67 226.74,386.52 C225.88,387.38 225.72,387.50 224.07,389.08 C222.42,390.65 218.04,394.83 216.84,395.98" fill="none" stroke="#8fc1ea" stroke-width="2.15" stroke-linejoin="round" stroke-linecap="butt" clip-path="url(#cp11)"/>
<path d="M264.24,245.87 C264.24,246.25 264.23,247.41 264.22,248.18 C264.21,248.96 264.20,249.73 264.19,250.50 C264.18,251.27 264.17,252.04 264.16,252.81 C264.15,253.59 264.14,254.36 264.13,255.13 C264.11,255.90 264.10,256.67 264.09,257.44 C264.07,258.22 264.06,258.99 264.04,259.76 C264.03,260.53 264.01,261.30 263.99,262.07 C263.98,262.85 263.96,263.62 263.94,264.39 C263.92,265.16 263.90,265.93 263.88,266.71 C263.86,267.48 263.83,268.25 263.81,269.02 C263.79,269.79 263.76,270.56 263.74,271.34 C263.71,272.11 263.68,272.88 263.65,273.65 C263.62,274.42 263.59,275.19 263.56,275.97 C263.53,276.74 263.50,277.51 263.46,278.28 C263.43,279.05 263.39,279.83 263.35,280.60 C263.32,281.37 263.28,282.14 263.23,282.91 C263.19,283.68 263.15,284.46 263.11,285.23 C263.06,286.00 263.01,286.77 262.96,287.54 C262.92,288.31 262.86,289.09 262.81,289.86 C262.76,290.63 262.70,291.40 262.65,292.17 C262.59,292.95 262.53,293.72 262.47,294.49 C262.40,295.26 262.34,296.03 262.27,296.80 C262.21,297.58 262.14,298.35 262.07,299.12 C261.99,299.89 261.92,300.66 261.84,301.43 C261.77,302.21 261.69,302.98 261.60,303.75 C261.52,304.52 261.44,305.29 261.35,306.06 C261.26,306.84 261.17,307.61 261.08,308.38 C260.98,309.15 260.89,309.92 260.79,310.70 C260.69,311.47 260.59,312.24 260.48,313.01 C260.38,313.78 260.27,314.55 260.16,315.33 C260.05,316.10 259.94,316.87 259.82,317.64 C259.70,318.41 259.58,319.18 259.46,319.96 C259.34,320.73 259.21,321.50 259.08,322.27 C258.95,323.04 258.82,323.82 258.68,324.59 C258.55,325.36 258.41,326.13 258.27,326.90 C258.13,327.67 257.98,328.45 257.84,329.22 C257.69,329.99 257.54,330.76 257.39,331.53 C257.23,332.30 257.08,333.08 256.92,333.85 C256.76,334.62 256.60,335.39 256.43,336.16 C256.27,336.93 256.10,337.71 255.93,338.48 C255.76,339.25 255.59,340.02 255.41,340.79 C255.23,341.57 255.06,342.34 254.87,343.11 C254.69,343.88 254.51,344.65 254.32,345.42 C254.14,346.20 253.95,346.97 253.76,347.74 C253.57,348.51 253.37,349.28 253.18,350.05 C252.98,350.83 252.78,351.60 252.58,352.37 C252.38,353.14 252.18,353.91 251.97,354.69 C251.77,355.46 251.56,356.23 251.35,357.00 C251.14,357.77 250.93,358.54 250.72,359.32 C250.51,360.09 250.29,360.86 250.08,361.63 C249.86,362.40 249.64,363.17 249.42,363.95 C249.21,364.72 248.98,365.49 248.76,366.26 C248.54,367.03 248.32,367.80 248.09,368.58 C247.87,369.35 247.64,370.12 247.42,370.89 C247.19,371.66 246.96,372.44 246.74,373.21 C246.51,373.98 246.28,374.75 246.05,375.52 C245.82,376.29 245.59,377.07 245.36,377.84 C245.13,378.61 244.90,379.38 244.66,380.15 C244.43,380.92 244.56,380.49 243.97,382.47 C243.37,384.45 241.57,390.45 241.09,392.04" fill="none" stroke="#d42a86" stroke-width="2.15" stroke-linejoin="round" stroke-linecap="butt" clip-path="url(#cp11)"/>
<path d="M264.25,243.67 C264.25,244.17 264.26,245.67 264.26,246.66 C264.26,247.66 264.26,248.66 264.26,249.65 C264.26,250.65 264.25,251.65 264.25,252.65 C264.24,253.64 264.23,254.64 264.22,255.64 C264.22,256.63 264.20,257.63 264.19,258.63 C264.18,259.63 264.17,260.62 264.15,261.62 C264.13,262.62 264.12,263.61 264.10,264.61 C264.08,265.61 264.05,266.61 264.03,267.60 C264.01,268.60 263.99,269.60 263.96,270.59 C263.94,271.59 263.92,272.59 263.89,273.59 C263.86,274.58 263.84,275.58 263.81,276.58 C263.78,277.57 263.76,278.57 263.73,279.57 C263.70,280.57 263.67,281.56 263.63,282.56 C263.60,283.56 263.56,284.56 263.53,285.55 C263.49,286.55 263.45,287.55 263.40,288.54 C263.36,289.54 263.31,290.54 263.25,291.54 C263.20,292.53 263.14,293.53 263.08,294.53 C263.02,295.52 262.95,296.52 262.88,297.52 C262.81,298.52 262.74,299.51 262.66,300.51 C262.59,301.51 262.50,302.50 262.42,303.50 C262.34,304.50 262.26,305.50 262.17,306.49 C262.09,307.49 262.01,308.49 261.92,309.48 C261.83,310.48 261.74,311.48 261.66,312.48 C261.57,313.47 261.48,314.47 261.38,315.47 C261.29,316.46 261.20,317.46 261.10,318.46 C261.00,319.46 260.90,320.45 260.79,321.45 C260.69,322.45 260.58,323.44 260.47,324.44 C260.35,325.44 260.23,326.44 260.11,327.43 C259.98,328.43 259.84,329.43 259.70,330.43 C259.56,331.42 259.41,332.42 259.24,333.42 C259.08,334.41 258.91,335.41 258.73,336.41 C258.55,337.41 258.36,338.40 258.16,339.40 C257.96,340.40 257.75,341.39 257.53,342.39 C257.31,343.39 257.07,344.39 256.83,345.38 C256.58,346.38 256.33,347.38 256.06,348.37 C255.79,349.37 255.50,350.37 255.21,351.37 C254.91,352.36 254.61,353.36 254.29,354.36 C253.96,355.35 253.63,356.35 253.29,357.35 C252.94,358.35 252.58,359.34 252.21,360.34 C251.84,361.34 251.46,362.33 251.06,363.33 C250.67,364.33 250.27,365.33 249.85,366.32 C249.44,367.32 249.01,368.32 248.58,369.32 C248.14,370.31 247.70,371.31 247.24,372.31 C246.78,373.30 246.32,374.30 245.84,375.30 C245.36,376.30 244.87,377.29 244.37,378.29 C243.87,379.29 243.35,380.28 242.83,381.28 C242.30,382.28 241.76,383.28 241.21,384.27 C240.65,385.27 240.09,386.27 239.50,387.26 C238.92,388.26 238.33,389.26 237.71,390.26 C237.10,391.25 236.47,392.25 235.82,393.25 C235.17,394.24 234.50,395.24 233.82,396.24 C233.13,397.24 232.42,398.23 231.69,399.23 C230.96,400.23 230.21,401.22 229.43,402.22 C228.64,403.22 227.84,404.22 227.00,405.21 C226.17,406.21 225.30,407.21 224.40,408.20 C223.50,409.20 222.57,410.20 221.60,411.20 C220.63,412.19 219.62,413.19 218.57,414.19 C217.51,415.19 216.42,416.18 215.27,417.18 C214.12,418.18 212.26,419.67 211.66,420.17" fill="none" stroke="#e98c35" stroke-width="2.15" stroke-linejoin="round" stroke-linecap="butt" clip-path="url(#cp11)"/>
<clipPath id="cp21"><rect x="377.5" y="196.9" width="133.0" height="162.0"/></clipPath>
<path d="M377.60,350.88 C378.92,349.73 383.14,345.65 385.50,343.98 C387.86,342.32 389.25,341.61 391.75,340.88 C394.25,340.16 397.79,339.63 400.50,339.63 C403.21,339.63 405.71,340.26 408.00,340.88 C410.29,341.51 411.75,342.45 414.25,343.38 C416.75,344.32 420.25,345.65 423.00,346.48 C425.75,347.32 429.46,348.07 430.75,348.38" fill="none" stroke="#36ad3a" stroke-width="2.15" stroke-linejoin="round" stroke-linecap="butt" clip-path="url(#cp21)"/>
<path d="M447.59,364.41 C448.87,363.34 452.52,360.28 455.25,357.98 C457.98,355.68 461.29,352.80 464.00,350.63 C466.71,348.47 469.21,346.65 471.50,344.98 C473.79,343.32 475.46,341.61 477.75,340.63 C480.04,339.66 482.75,339.13 485.25,339.13 C487.75,339.13 490.71,340.06 492.75,340.63 C494.79,341.21 496.36,341.96 497.50,342.58 C498.64,343.21 499.13,343.42 499.60,344.38 C500.07,345.35 500.15,346.12 500.30,348.38 C500.45,350.65 500.43,354.72 500.50,357.98 C500.57,361.25 500.67,366.31 500.71,367.98" fill="none" stroke="#36ad3a" stroke-width="2.15" stroke-linejoin="round" stroke-linecap="butt" clip-path="url(#cp21)"/>
<path d="M414.75,367.31 C415.46,365.80 418.05,360.29 419.00,358.26 C419.95,356.23 419.98,356.10 420.47,355.13 C420.96,354.15 421.45,353.25 421.94,352.42 C422.43,351.58 422.92,350.82 423.41,350.12 C423.90,349.43 424.39,348.80 424.88,348.24 C425.36,347.69 425.85,347.20 426.34,346.78 C426.83,346.37 427.32,346.02 427.81,345.74 C428.30,345.46 428.79,345.25 429.28,345.12 C429.77,344.98 430.26,344.91 430.75,344.91 C431.24,344.91 431.73,344.98 432.22,345.12 C432.71,345.25 433.20,345.46 433.69,345.74 C434.18,346.02 434.67,346.37 435.16,346.78 C435.65,347.20 436.14,347.69 436.62,348.24 C437.11,348.80 437.60,349.43 438.09,350.12 C438.58,350.82 439.07,351.58 439.56,352.42 C440.05,353.25 440.54,354.15 441.03,355.13 C441.52,356.10 441.55,356.23 442.50,358.26 C443.45,360.29 446.04,365.80 446.75,367.31" fill="none" stroke="#1f3f9e" stroke-width="2.15" stroke-linejoin="round" stroke-linecap="butt" clip-path="url(#cp21)"/>
<path d="M430.75,205.14 C430.75,205.56 430.74,206.84 430.73,207.69 C430.72,208.54 430.71,209.39 430.70,210.24 C430.69,211.09 430.68,211.94 430.67,212.79 C430.66,213.65 430.64,214.50 430.63,215.35 C430.62,216.20 430.61,217.05 430.60,217.90 C430.58,218.75 430.57,219.60 430.56,220.45 C430.54,221.30 430.53,222.15 430.51,223.00 C430.50,223.86 430.48,224.71 430.47,225.56 C430.45,226.41 430.43,227.26 430.42,228.11 C430.40,228.96 430.38,229.81 430.36,230.66 C430.34,231.51 430.32,232.36 430.30,233.21 C430.28,234.07 430.26,234.92 430.24,235.77 C430.22,236.62 430.19,237.47 430.17,238.32 C430.14,239.17 430.12,240.02 430.09,240.87 C430.06,241.72 430.03,242.57 430.00,243.42 C429.97,244.28 429.94,245.13 429.90,245.98 C429.87,246.83 429.83,247.68 429.79,248.53 C429.75,249.38 429.71,250.23 429.67,251.08 C429.63,251.93 429.58,252.78 429.53,253.63 C429.48,254.49 429.43,255.34 429.38,256.19 C429.33,257.04 429.27,257.89 429.21,258.74 C429.15,259.59 429.09,260.44 429.02,261.29 C428.96,262.14 428.89,262.99 428.81,263.85 C428.74,264.70 428.67,265.55 428.59,266.40 C428.51,267.25 428.42,268.10 428.33,268.95 C428.24,269.80 428.15,270.65 428.06,271.50 C427.96,272.35 427.86,273.20 427.75,274.06 C427.65,274.91 427.54,275.76 427.42,276.61 C427.30,277.46 427.18,278.31 427.06,279.16 C426.93,280.01 426.80,280.86 426.66,281.71 C426.52,282.56 426.38,283.41 426.23,284.27 C426.08,285.12 425.93,285.97 425.77,286.82 C425.60,287.67 425.44,288.52 425.26,289.37 C425.09,290.22 424.91,291.07 424.72,291.92 C424.53,292.77 424.34,293.62 424.13,294.48 C423.93,295.33 423.72,296.18 423.51,297.03 C423.29,297.88 423.07,298.73 422.84,299.58 C422.61,300.43 422.37,301.28 422.13,302.13 C421.88,302.98 421.63,303.83 421.37,304.69 C421.11,305.54 420.84,306.39 420.56,307.24 C420.29,308.09 420.00,308.94 419.71,309.79 C419.41,310.64 419.11,311.49 418.80,312.34 C418.48,313.19 418.16,314.05 417.83,314.90 C417.50,315.75 417.15,316.60 416.80,317.45 C416.45,318.30 416.08,319.15 415.71,320.00 C415.34,320.85 414.95,321.70 414.55,322.55 C414.15,323.40 413.75,324.26 413.32,325.11 C412.90,325.96 412.47,326.81 412.02,327.66 C411.57,328.51 411.11,329.36 410.63,330.21 C410.15,331.06 409.66,331.91 409.16,332.76 C408.65,333.61 408.13,334.47 407.59,335.32 C407.05,336.17 406.50,337.02 405.92,337.87 C405.35,338.72 404.75,339.57 404.14,340.42 C403.53,341.27 402.90,342.12 402.25,342.97 C401.59,343.82 400.92,344.68 400.22,345.53 C399.52,346.38 398.80,347.23 398.05,348.08 C397.30,348.93 396.53,349.78 395.73,350.63 C394.93,351.48 394.10,352.33 393.24,353.18 C392.38,354.03 392.22,354.16 390.57,355.74 C388.92,357.31 384.54,361.49 383.34,362.64" fill="none" stroke="#8fc1ea" stroke-width="2.15" stroke-linejoin="round" stroke-linecap="butt" clip-path="url(#cp21)"/>
<path d="M430.74,217.97 C430.74,218.36 430.73,219.51 430.72,220.29 C430.71,221.06 430.70,221.83 430.69,222.60 C430.68,223.37 430.67,224.14 430.66,224.92 C430.65,225.69 430.64,226.46 430.63,227.23 C430.61,228.00 430.60,228.78 430.59,229.55 C430.57,230.32 430.56,231.09 430.54,231.86 C430.53,232.63 430.51,233.41 430.49,234.18 C430.48,234.95 430.46,235.72 430.44,236.49 C430.42,237.26 430.40,238.04 430.38,238.81 C430.36,239.58 430.33,240.35 430.31,241.12 C430.29,241.90 430.26,242.67 430.24,243.44 C430.21,244.21 430.18,244.98 430.15,245.75 C430.12,246.53 430.09,247.30 430.06,248.07 C430.03,248.84 430.00,249.61 429.96,250.38 C429.93,251.16 429.89,251.93 429.85,252.70 C429.82,253.47 429.78,254.24 429.73,255.01 C429.69,255.79 429.65,256.56 429.61,257.33 C429.56,258.10 429.51,258.87 429.46,259.65 C429.42,260.42 429.36,261.19 429.31,261.96 C429.26,262.73 429.20,263.50 429.15,264.28 C429.09,265.05 429.03,265.82 428.97,266.59 C428.90,267.36 428.84,268.13 428.77,268.91 C428.71,269.68 428.64,270.45 428.57,271.22 C428.49,271.99 428.42,272.77 428.34,273.54 C428.27,274.31 428.19,275.08 428.10,275.85 C428.02,276.62 427.94,277.40 427.85,278.17 C427.76,278.94 427.67,279.71 427.58,280.48 C427.48,281.25 427.39,282.03 427.29,282.80 C427.19,283.57 427.09,284.34 426.98,285.11 C426.88,285.89 426.77,286.66 426.66,287.43 C426.55,288.20 426.44,288.97 426.32,289.74 C426.20,290.52 426.08,291.29 425.96,292.06 C425.84,292.83 425.71,293.60 425.58,294.37 C425.45,295.15 425.32,295.92 425.18,296.69 C425.05,297.46 424.91,298.23 424.77,299.00 C424.63,299.78 424.48,300.55 424.34,301.32 C424.19,302.09 424.04,302.86 423.89,303.64 C423.73,304.41 423.58,305.18 423.42,305.95 C423.26,306.72 423.10,307.49 422.93,308.27 C422.77,309.04 422.60,309.81 422.43,310.58 C422.26,311.35 422.09,312.12 421.91,312.90 C421.73,313.67 421.56,314.44 421.37,315.21 C421.19,315.98 421.01,316.76 420.82,317.53 C420.64,318.30 420.45,319.07 420.26,319.84 C420.07,320.61 419.87,321.39 419.68,322.16 C419.48,322.93 419.28,323.70 419.08,324.47 C418.88,325.24 418.68,326.02 418.47,326.79 C418.27,327.56 418.06,328.33 417.85,329.10 C417.64,329.87 417.43,330.65 417.22,331.42 C417.01,332.19 416.79,332.96 416.58,333.73 C416.36,334.51 416.14,335.28 415.92,336.05 C415.71,336.82 415.48,337.59 415.26,338.36 C415.04,339.14 414.82,339.91 414.59,340.68 C414.37,341.45 414.14,342.22 413.92,342.99 C413.69,343.77 413.46,344.54 413.24,345.31 C413.01,346.08 412.78,346.85 412.55,347.63 C412.32,348.40 412.09,349.17 411.86,349.94 C411.63,350.71 411.40,351.48 411.16,352.26 C410.93,353.03 411.06,352.59 410.47,354.57 C409.87,356.55 408.07,362.55 407.59,364.15" fill="none" stroke="#d42a86" stroke-width="2.15" stroke-linejoin="round" stroke-linecap="butt" clip-path="url(#cp21)"/>
<path d="M431.72,191.73 C431.73,192.20 431.78,193.61 431.81,194.55 C431.84,195.49 431.87,196.43 431.90,197.37 C431.94,198.31 431.97,199.25 432.00,200.19 C432.04,201.13 432.07,202.07 432.11,203.01 C432.15,203.95 432.19,204.89 432.22,205.83 C432.26,206.77 432.30,207.71 432.34,208.65 C432.38,209.59 432.42,210.53 432.47,211.47 C432.51,212.41 432.55,213.35 432.60,214.29 C432.64,215.23 432.69,216.17 432.73,217.11 C432.78,218.05 432.83,218.99 432.88,219.93 C432.93,220.87 432.98,221.81 433.03,222.75 C433.08,223.69 433.13,224.63 433.19,225.57 C433.24,226.51 433.30,227.45 433.36,228.39 C433.42,229.33 433.48,230.27 433.54,231.22 C433.60,232.16 433.66,233.10 433.73,234.04 C433.79,234.98 433.86,235.92 433.93,236.86 C434.00,237.80 434.07,238.74 434.15,239.68 C434.22,240.62 434.30,241.56 434.38,242.50 C434.46,243.44 434.54,244.38 434.63,245.32 C434.72,246.26 434.81,247.20 434.91,248.14 C435.00,249.08 435.10,250.02 435.21,250.96 C435.31,251.90 435.42,252.84 435.53,253.78 C435.65,254.72 435.77,255.66 435.90,256.60 C436.02,257.54 436.16,258.48 436.30,259.42 C436.44,260.36 436.59,261.30 436.74,262.24 C436.90,263.18 437.06,264.12 437.23,265.06 C437.40,266.00 437.58,266.94 437.77,267.88 C437.96,268.82 438.16,269.76 438.36,270.70 C438.57,271.64 438.79,272.58 439.01,273.52 C439.24,274.46 439.48,275.40 439.73,276.34 C439.98,277.28 440.24,278.22 440.51,279.16 C440.78,280.10 441.06,281.04 441.36,281.98 C441.66,282.92 441.97,283.86 442.29,284.80 C442.61,285.74 442.95,286.68 443.30,287.62 C443.65,288.56 444.01,289.50 444.39,290.44 C444.77,291.38 445.16,292.32 445.57,293.26 C445.98,294.20 446.40,295.14 446.84,296.08 C447.28,297.02 447.74,297.96 448.21,298.90 C448.68,299.84 449.16,300.78 449.67,301.72 C450.17,302.66 450.68,303.60 451.22,304.54 C451.75,305.48 452.30,306.42 452.86,307.36 C453.42,308.30 454.00,309.24 454.59,310.18 C455.18,311.12 455.78,312.06 456.40,313.00 C457.01,313.95 457.64,314.89 458.28,315.83 C458.92,316.77 459.57,317.71 460.23,318.65 C460.88,319.59 461.55,320.53 462.22,321.47 C462.89,322.41 463.57,323.35 464.25,324.29 C464.93,325.23 465.61,326.17 466.29,327.11 C466.97,328.05 467.66,328.99 468.33,329.93 C469.01,330.87 469.68,331.81 470.34,332.75 C471.00,333.69 471.65,334.63 472.29,335.57 C472.93,336.51 473.55,337.45 474.16,338.39 C474.76,339.33 475.35,340.27 475.91,341.21 C476.46,342.15 477.00,343.09 477.51,344.03 C478.01,344.97 478.49,345.91 478.94,346.85 C479.38,347.79 479.79,348.73 480.15,349.67 C480.52,350.61 480.85,351.55 481.13,352.49 C481.42,353.43 481.66,354.37 481.85,355.31 C482.04,356.25 481.96,356.01 482.28,358.13 C482.60,360.25 483.53,366.37 483.78,368.02" fill="none" stroke="#6a0d1c" stroke-width="2.15" stroke-linejoin="round" stroke-linecap="butt" clip-path="url(#cp21)"/>
<path d="M430.75,175.63 C430.75,176.13 430.76,177.62 430.76,178.62 C430.76,179.62 430.76,180.61 430.76,181.61 C430.76,182.61 430.75,183.61 430.75,184.60 C430.74,185.60 430.73,186.60 430.72,187.59 C430.72,188.59 430.70,189.59 430.69,190.59 C430.68,191.58 430.67,192.58 430.65,193.58 C430.63,194.57 430.62,195.57 430.60,196.57 C430.58,197.57 430.55,198.56 430.53,199.56 C430.51,200.56 430.49,201.56 430.46,202.55 C430.44,203.55 430.42,204.55 430.39,205.54 C430.36,206.54 430.34,207.54 430.31,208.54 C430.28,209.53 430.26,210.53 430.23,211.53 C430.20,212.52 430.17,213.52 430.13,214.52 C430.10,215.52 430.06,216.51 430.03,217.51 C429.99,218.51 429.95,219.50 429.90,220.50 C429.86,221.50 429.81,222.50 429.75,223.49 C429.70,224.49 429.64,225.49 429.58,226.48 C429.52,227.48 429.45,228.48 429.38,229.48 C429.31,230.47 429.24,231.47 429.16,232.47 C429.09,233.46 429.00,234.46 428.92,235.46 C428.84,236.46 428.76,237.45 428.67,238.45 C428.59,239.45 428.51,240.45 428.42,241.44 C428.33,242.44 428.24,243.44 428.16,244.43 C428.07,245.43 427.98,246.43 427.88,247.43 C427.79,248.42 427.70,249.42 427.60,250.42 C427.50,251.41 427.40,252.41 427.29,253.41 C427.19,254.41 427.08,255.40 426.97,256.40 C426.85,257.40 426.73,258.39 426.61,259.39 C426.48,260.39 426.34,261.39 426.20,262.38 C426.06,263.38 425.91,264.38 425.74,265.37 C425.58,266.37 425.41,267.37 425.23,268.37 C425.05,269.36 424.86,270.36 424.66,271.36 C424.46,272.35 424.25,273.35 424.03,274.35 C423.81,275.35 423.57,276.34 423.33,277.34 C423.08,278.34 422.83,279.33 422.56,280.33 C422.29,281.33 422.00,282.33 421.71,283.32 C421.41,284.32 421.11,285.32 420.79,286.32 C420.46,287.31 420.13,288.31 419.79,289.31 C419.44,290.30 419.08,291.30 418.71,292.30 C418.34,293.30 417.96,294.29 417.56,295.29 C417.17,296.29 416.77,297.28 416.35,298.28 C415.94,299.28 415.51,300.28 415.08,301.27 C414.64,302.27 414.20,303.27 413.74,304.26 C413.28,305.26 412.82,306.26 412.34,307.26 C411.86,308.25 411.37,309.25 410.87,310.25 C410.37,311.24 409.85,312.24 409.33,313.24 C408.80,314.24 408.26,315.23 407.71,316.23 C407.15,317.23 406.59,318.22 406.00,319.22 C405.42,320.22 404.83,321.22 404.21,322.21 C403.60,323.21 402.97,324.21 402.32,325.20 C401.67,326.20 401.00,327.20 400.32,328.20 C399.63,329.19 398.92,330.19 398.19,331.19 C397.46,332.19 396.71,333.18 395.93,334.18 C395.14,335.18 394.34,336.17 393.50,337.17 C392.67,338.17 391.80,339.17 390.90,340.16 C390.00,341.16 389.07,342.16 388.10,343.15 C387.13,344.15 386.12,345.15 385.07,346.15 C384.01,347.14 382.92,348.14 381.77,349.14 C380.62,350.13 378.76,351.63 378.16,352.13" fill="none" stroke="#e98c35" stroke-width="2.15" stroke-linejoin="round" stroke-linecap="butt" clip-path="url(#cp21)"/>
<rect x="44.50" y="6.25" width="133.0" height="162.0" fill="none" stroke="#2a2a2a" stroke-width="1.4"/>
<rect x="211.00" y="6.25" width="133.0" height="162.0" fill="none" stroke="#2a2a2a" stroke-width="1.4"/>
<rect x="377.50" y="6.25" width="133.0" height="162.0" fill="none" stroke="#2a2a2a" stroke-width="1.4"/>
<rect x="44.50" y="196.90" width="133.0" height="162.0" fill="none" stroke="#2a2a2a" stroke-width="1.4"/>
<rect x="211.00" y="196.90" width="133.0" height="162.0" fill="none" stroke="#2a2a2a" stroke-width="1.4"/>
<rect x="377.50" y="196.90" width="133.0" height="162.0" fill="none" stroke="#2a2a2a" stroke-width="1.4"/>
<text x="35.2" y="172.55" text-anchor="end" font-size="12.2" fill="#1a1a1a" font-family="Liberation Sans, sans-serif" stroke="#1a1a1a" stroke-width="0.32">10</text>
<text x="35.6" y="167.25" font-size="7.6" fill="#1a1a1a" font-family="Liberation Sans, sans-serif" stroke="#1a1a1a" stroke-width="0.32">4</text>
<text x="35.2" y="132.05" text-anchor="end" font-size="12.2" fill="#1a1a1a" font-family="Liberation Sans, sans-serif" stroke="#1a1a1a" stroke-width="0.32">10</text>
<text x="35.6" y="126.75" font-size="7.6" fill="#1a1a1a" font-family="Liberation Sans, sans-serif" stroke="#1a1a1a" stroke-width="0.32">5</text>
<text x="35.2" y="91.55" text-anchor="end" font-size="12.2" fill="#1a1a1a" font-family="Liberation Sans, sans-serif" stroke="#1a1a1a" stroke-width="0.32">10</text>
<text x="35.6" y="86.25" font-size="7.6" fill="#1a1a1a" font-family="Liberation Sans, sans-serif" stroke="#1a1a1a" stroke-width="0.32">6</text>
<text x="35.2" y="51.05" text-anchor="end" font-size="12.2" fill="#1a1a1a" font-family="Liberation Sans, sans-serif" stroke="#1a1a1a" stroke-width="0.32">10</text>
<text x="35.6" y="45.75" font-size="7.6" fill="#1a1a1a" font-family="Liberation Sans, sans-serif" stroke="#1a1a1a" stroke-width="0.32">7</text>
<text x="35.2" y="10.55" text-anchor="end" font-size="12.2" fill="#1a1a1a" font-family="Liberation Sans, sans-serif" stroke="#1a1a1a" stroke-width="0.32">10</text>
<text x="35.6" y="5.25" font-size="7.6" fill="#1a1a1a" font-family="Liberation Sans, sans-serif" stroke="#1a1a1a" stroke-width="0.32">8</text>
<text x="35.2" y="363.20" text-anchor="end" font-size="12.2" fill="#1a1a1a" font-family="Liberation Sans, sans-serif" stroke="#1a1a1a" stroke-width="0.32">10</text>
<text x="35.6" y="357.90" font-size="7.6" fill="#1a1a1a" font-family="Liberation Sans, sans-serif" stroke="#1a1a1a" stroke-width="0.32">4</text>
<text x="35.2" y="322.70" text-anchor="end" font-size="12.2" fill="#1a1a1a" font-family="Liberation Sans, sans-serif" stroke="#1a1a1a" stroke-width="0.32">10</text>
<text x="35.6" y="317.40" font-size="7.6" fill="#1a1a1a" font-family="Liberation Sans, sans-serif" stroke="#1a1a1a" stroke-width="0.32">5</text>
<text x="35.2" y="282.20" text-anchor="end" font-size="12.2" fill="#1a1a1a" font-family="Liberation Sans, sans-serif" stroke="#1a1a1a" stroke-width="0.32">10</text>
<text x="35.6" y="276.90" font-size="7.6" fill="#1a1a1a" font-family="Liberation Sans, sans-serif" stroke="#1a1a1a" stroke-width="0.32">6</text>
<text x="35.2" y="241.70" text-anchor="end" font-size="12.2" fill="#1a1a1a" font-family="Liberation Sans, sans-serif" stroke="#1a1a1a" stroke-width="0.32">10</text>
<text x="35.6" y="236.40" font-size="7.6" fill="#1a1a1a" font-family="Liberation Sans, sans-serif" stroke="#1a1a1a" stroke-width="0.32">7</text>
<text x="35.2" y="201.20" text-anchor="end" font-size="12.2" fill="#1a1a1a" font-family="Liberation Sans, sans-serif" stroke="#1a1a1a" stroke-width="0.32">10</text>
<text x="35.6" y="195.90" font-size="7.6" fill="#1a1a1a" font-family="Liberation Sans, sans-serif" stroke="#1a1a1a" stroke-width="0.32">8</text>
<text x="44.50" y="374.50" text-anchor="middle" font-size="12.8" fill="#111" font-family="Liberation Sans, sans-serif" stroke="#111" stroke-width="0.32">X</text>
<text x="97.90" y="374.50" text-anchor="middle" font-size="12.8" fill="#111" font-family="Liberation Sans, sans-serif" stroke="#111" stroke-width="0.32">Γ</text>
<text x="177.50" y="374.50" text-anchor="middle" font-size="12.8" fill="#111" font-family="Liberation Sans, sans-serif" stroke="#111" stroke-width="0.32">Z</text>
<text x="211.00" y="374.50" text-anchor="middle" font-size="12.8" fill="#111" font-family="Liberation Sans, sans-serif" stroke="#111" stroke-width="0.32">X</text>
<text x="264.40" y="374.50" text-anchor="middle" font-size="12.8" fill="#111" font-family="Liberation Sans, sans-serif" stroke="#111" stroke-width="0.32">Γ</text>
<text x="344.00" y="374.50" text-anchor="middle" font-size="12.8" fill="#111" font-family="Liberation Sans, sans-serif" stroke="#111" stroke-width="0.32">Z</text>
<text x="377.50" y="374.50" text-anchor="middle" font-size="12.8" fill="#111" font-family="Liberation Sans, sans-serif" stroke="#111" stroke-width="0.32">X</text>
<text x="430.90" y="374.50" text-anchor="middle" font-size="12.8" fill="#111" font-family="Liberation Sans, sans-serif" stroke="#111" stroke-width="0.32">Γ</text>
<text x="510.50" y="374.50" text-anchor="middle" font-size="12.8" fill="#111" font-family="Liberation Sans, sans-serif" stroke="#111" stroke-width="0.32">Z</text>
<text transform="translate(52.00,18.95) scale(1.0,1)" font-size="14.6" fill="#111" font-family="Liberation Sans, sans-serif" stroke="#111" stroke-width="0.32">(a)</text>
<text transform="translate(218.50,18.95) scale(1.0,1)" font-size="14.6" fill="#111" font-family="Liberation Sans, sans-serif" stroke="#111" stroke-width="0.32">(b)</text>
<text transform="translate(385.00,18.95) scale(1.0,1)" font-size="14.6" fill="#111" font-family="Liberation Sans, sans-serif" stroke="#111" stroke-width="0.32">(c)</text>
<text transform="translate(52.00,209.60) scale(1.0,1)" font-size="14.6" fill="#111" font-family="Liberation Sans, sans-serif" stroke="#111" stroke-width="0.32">(d)</text>
<text transform="translate(218.50,209.60) scale(1.0,1)" font-size="14.6" fill="#111" font-family="Liberation Sans, sans-serif" stroke="#111" stroke-width="0.32">(e)</text>
<text transform="translate(385.00,209.60) scale(1.0,1)" font-size="14.6" fill="#111" font-family="Liberation Sans, sans-serif" stroke="#111" stroke-width="0.32">(f)</text>
<text transform="translate(172.70,19.65) scale(1.03,1)" text-anchor="end" font-size="15.0" fill="#111" font-family="Liberation Sans, sans-serif" stroke="#111" stroke-width="0.32">Electron</text>
<text transform="translate(172.70,211.40) scale(1.04,1)" text-anchor="end" font-size="15.0" fill="#111" font-family="Liberation Sans, sans-serif" stroke="#111" stroke-width="0.32">Hole</text>
<text transform="translate(13.00,87.25) rotate(-90) scale(1.117,1)" text-anchor="middle" font-size="13.5" fill="#1a1a1a" font-family="Liberation Sans, sans-serif" stroke="#1a1a1a" stroke-width="0.32">|g|<tspan dy="-5.2" font-size="9.2">2</tspan><tspan dy="5.2"> [meV</tspan><tspan dy="-5.2" font-size="9.2">2</tspan><tspan dy="5.2">]</tspan></text>
<text transform="translate(198.00,87.35) rotate(-90) scale(1.09,1)" text-anchor="middle" font-size="13.5" fill="#1a1a1a" font-family="Liberation Sans, sans-serif" stroke="#1a1a1a" stroke-width="0.32">n<tspan dy="3" font-size="9">q</tspan><tspan dy="-3"> × |g|</tspan><tspan dy="-5.2" font-size="9.2">2</tspan><tspan dy="5.2"> [meV</tspan><tspan dy="-5.2" font-size="9.2">2</tspan><tspan dy="5.2">]</tspan></text>
<text transform="translate(364.60,87.15) rotate(-90) scale(1.09,1)" text-anchor="middle" font-size="13.5" fill="#1a1a1a" font-family="Liberation Sans, sans-serif" stroke="#1a1a1a" stroke-width="0.32">(n<tspan dy="3" font-size="9">q</tspan><tspan dy="-3"> + 1) × |g|</tspan><tspan dy="-5.2" font-size="9.2">2</tspan><tspan dy="5.2"> [meV</tspan><tspan dy="-5.2" font-size="9.2">2</tspan><tspan dy="5.2">]</tspan></text>
<text transform="translate(13.00,277.90) rotate(-90) scale(1.117,1)" text-anchor="middle" font-size="13.5" fill="#1a1a1a" font-family="Liberation Sans, sans-serif" stroke="#1a1a1a" stroke-width="0.32">|g|<tspan dy="-5.2" font-size="9.2">2</tspan><tspan dy="5.2"> [meV</tspan><tspan dy="-5.2" font-size="9.2">2</tspan><tspan dy="5.2">]</tspan></text>
<text transform="translate(198.00,278.00) rotate(-90) scale(1.09,1)" text-anchor="middle" font-size="13.5" fill="#1a1a1a" font-family="Liberation Sans, sans-serif" stroke="#1a1a1a" stroke-width="0.32">n<tspan dy="3" font-size="9">q</tspan><tspan dy="-3"> × |g|</tspan><tspan dy="-5.2" font-size="9.2">2</tspan><tspan dy="5.2"> [meV</tspan><tspan dy="-5.2" font-size="9.2">2</tspan><tspan dy="5.2">]</tspan></text>
<text transform="translate(364.60,277.80) rotate(-90) scale(1.09,1)" text-anchor="middle" font-size="13.5" fill="#1a1a1a" font-family="Liberation Sans, sans-serif" stroke="#1a1a1a" stroke-width="0.32">(n<tspan dy="3" font-size="9">q</tspan><tspan dy="-3"> + 1) × |g|</tspan><tspan dy="-5.2" font-size="9.2">2</tspan><tspan dy="5.2"> [meV</tspan><tspan dy="-5.2" font-size="9.2">2</tspan><tspan dy="5.2">]</tspan></text>
<text transform="translate(274.8,22.60) scale(0.965,1)" font-size="10.6" fill="#b82e7e" font-family="Liberation Sans, sans-serif" stroke="#b82e7e" stroke-width="0.32">E<tspan dy="2.2" font-size="7.4">u</tspan><tspan dy="-2.2"> (41 meV)</tspan></text>
<text transform="translate(274.8,35.40) scale(0.965,1)" font-size="10.6" fill="#88bce6" font-family="Liberation Sans, sans-serif" stroke="#88bce6" stroke-width="0.32">E<tspan dy="2.2" font-size="7.4">u</tspan><tspan dy="-2.2"> (49 meV)</tspan></text>
<text transform="translate(274.8,48.20) scale(0.965,1)" font-size="10.6" fill="#3aa23c" font-family="Liberation Sans, sans-serif" stroke="#3aa23c" stroke-width="0.32">A<tspan dy="2.2" font-size="7.4">1g</tspan><tspan dy="-2.2"> (87 meV)</tspan></text>
<text transform="translate(274.8,61.00) scale(0.965,1)" font-size="10.6" fill="#6a1a2a" font-family="Liberation Sans, sans-serif" stroke="#6a1a2a" stroke-width="0.32">A<tspan dy="2.2" font-size="7.4">2u</tspan><tspan dy="-2.2"> (94 meV)</tspan></text>
<text transform="translate(274.8,73.80) scale(0.965,1)" font-size="10.6" fill="#e4924a" font-family="Liberation Sans, sans-serif" stroke="#e4924a" stroke-width="0.32">E<tspan dy="2.2" font-size="7.4">u</tspan><tspan dy="-2.2"> (100 meV)</tspan></text>
<text transform="translate(274.8,86.60) scale(0.965,1)" font-size="10.6" fill="#2c45a0" font-family="Liberation Sans, sans-serif" stroke="#2c45a0" stroke-width="0.32">B<tspan dy="2.2" font-size="7.4">2g</tspan><tspan dy="-2.2"> (102 meV)</tspan></text>
<line x1="0" y1="508.3" x2="520" y2="508.3" stroke="#d6d6d6" stroke-width="0.8"/>
<path d="M23.40,396.00L98.90,397.40 M13.70,404.50L89.70,406.00 M24.20,471.60L100.80,472.00 M14.50,480.60L90.70,481.80 M23.40,396.00L24.20,471.60 M13.70,404.50L14.50,480.60 M98.90,397.40L100.80,472.00 M89.70,406.00L90.70,481.80" stroke="#8c8c8c" stroke-width="1.0" fill="none"/>
<line x1="37.40" y1="411.10" x2="57.59" y2="401.04" stroke="#66944f" stroke-width="4.6"/>
<line x1="37.62" y1="411.55" x2="57.81" y2="401.49" stroke="#b2dc98" stroke-width="2.53"/>
<polygon points="64.30,397.70 59.70,405.30 55.47,396.79" fill="#66944f"/>
<polygon points="63.23,398.24 59.18,404.23 57.59,401.04" fill="#b2dc98"/>
<circle cx="23.40" cy="396.00" r="10.90" fill="url(#gBd)"/>
<circle cx="98.90" cy="397.40" r="11.00" fill="url(#gBd)"/>
<circle cx="24.20" cy="471.60" r="10.90" fill="url(#gBd)"/>
<circle cx="100.80" cy="472.00" r="10.50" fill="url(#gBd)"/>
<line x1="13.70" y1="404.50" x2="25.36" y2="412.87" stroke="#565c96" stroke-width="4.2"/>
<line x1="25.36" y1="412.87" x2="32.50" y2="418.00" stroke="#a81828" stroke-width="4.2"/>
<line x1="32.50" y1="418.00" x2="41.70" y2="425.98" stroke="#a81828" stroke-width="4.2"/>
<line x1="41.70" y1="425.98" x2="56.70" y2="439.00" stroke="#565c96" stroke-width="4.2"/>
<line x1="48.10" y1="452.30" x2="51.37" y2="447.25" stroke="#a81828" stroke-width="4.2"/>
<line x1="51.37" y1="447.25" x2="56.70" y2="439.00" stroke="#565c96" stroke-width="4.2"/>
<circle cx="32.50" cy="418.00" r="6.00" fill="url(#gO)"/>
<circle cx="48.10" cy="452.30" r="6.00" fill="url(#gO)"/>
<line x1="56.70" y1="439.00" x2="63.02" y2="432.74" stroke="#565c96" stroke-width="4.2"/>
<line x1="63.02" y1="432.74" x2="66.90" y2="428.90" stroke="#a81828" stroke-width="4.2"/>
<line x1="66.90" y1="428.90" x2="75.50" y2="420.30" stroke="#a81828" stroke-width="4.2"/>
<line x1="75.50" y1="420.30" x2="84.39" y2="411.60" stroke="#a81828" stroke-width="4.2"/>
<line x1="84.39" y1="411.60" x2="98.90" y2="397.40" stroke="#565c96" stroke-width="4.2"/>
<line x1="56.70" y1="439.00" x2="71.27" y2="453.57" stroke="#565c96" stroke-width="4.2"/>
<line x1="71.27" y1="453.57" x2="80.20" y2="462.50" stroke="#a81828" stroke-width="4.2"/>
<line x1="80.20" y1="462.50" x2="84.19" y2="469.83" stroke="#a81828" stroke-width="4.2"/>
<line x1="84.19" y1="469.83" x2="90.70" y2="481.80" stroke="#565c96" stroke-width="4.2"/>
<line x1="48.10" y1="452.30" x2="38.00" y2="457.80" stroke="#a81828" stroke-width="4.2"/>
<line x1="38.00" y1="457.80" x2="29.07" y2="466.46" stroke="#a81828" stroke-width="4.2"/>
<line x1="29.07" y1="466.46" x2="14.50" y2="480.60" stroke="#565c96" stroke-width="4.2"/>
<circle cx="56.70" cy="439.00" r="11.70" fill="url(#gB)"/>
<circle cx="75.50" cy="420.30" r="6.30" fill="url(#gO)"/>
<circle cx="66.90" cy="428.90" r="6.50" fill="url(#gO)"/>
<circle cx="38.00" cy="457.80" r="6.50" fill="url(#gO)"/>
<circle cx="80.20" cy="462.50" r="6.50" fill="url(#gO)"/>
<circle cx="13.70" cy="404.50" r="11.50" fill="url(#gB)"/>
<circle cx="89.70" cy="406.00" r="11.40" fill="url(#gB)"/>
<circle cx="14.50" cy="480.60" r="11.50" fill="url(#gB)"/>
<circle cx="90.70" cy="481.80" r="11.40" fill="url(#gB)"/>
<line x1="72.00" y1="417.00" x2="46.71" y2="404.35" stroke="#66944f" stroke-width="4.6"/>
<line x1="72.22" y1="416.55" x2="46.93" y2="403.91" stroke="#b2dc98" stroke-width="2.53"/>
<polygon points="40.00,401.00 48.83,400.11 44.58,408.60" fill="#66944f"/>
<polygon points="41.07,401.54 48.30,401.17 46.71,404.35" fill="#b2dc98"/>
<line x1="62.00" y1="426.00" x2="30.91" y2="412.91" stroke="#66944f" stroke-width="4.6"/>
<line x1="62.19" y1="425.54" x2="31.11" y2="412.45" stroke="#b2dc98" stroke-width="2.53"/>
<polygon points="24.00,410.00 32.76,408.53 29.07,417.29" fill="#66944f"/>
<polygon points="25.11,410.47 32.29,409.63 30.91,412.91" fill="#b2dc98"/>
<line x1="45.00" y1="449.00" x2="18.50" y2="433.74" stroke="#66944f" stroke-width="4.6"/>
<line x1="45.25" y1="448.57" x2="18.75" y2="433.31" stroke="#b2dc98" stroke-width="2.53"/>
<polygon points="12.00,430.00 20.87,429.63 16.13,437.86" fill="#66944f"/>
<polygon points="13.04,430.60 20.28,430.65 18.50,433.74" fill="#b2dc98"/>
<line x1="35.00" y1="455.50" x2="9.58" y2="441.60" stroke="#66944f" stroke-width="4.6"/>
<line x1="35.24" y1="455.06" x2="9.82" y2="441.16" stroke="#b2dc98" stroke-width="2.53"/>
<polygon points="3.00,438.00 11.86,437.43 7.30,445.77" fill="#66944f"/>
<polygon points="4.05,438.58 11.29,438.47 9.58,441.60" fill="#b2dc98"/>
<line x1="86.00" y1="458.00" x2="104.98" y2="447.21" stroke="#66944f" stroke-width="4.6"/>
<line x1="86.25" y1="458.43" x2="105.23" y2="447.64" stroke="#b2dc98" stroke-width="2.53"/>
<polygon points="111.50,443.50 107.33,451.34 102.63,443.08" fill="#66944f"/>
<polygon points="110.46,444.09 106.74,450.30 104.98,447.21" fill="#b2dc98"/>
<line x1="107.00" y1="399.50" x2="110.46" y2="402.05" stroke="#66944f" stroke-width="4.6"/>
<line x1="106.70" y1="399.90" x2="110.17" y2="402.45" stroke="#b2dc98" stroke-width="2.53"/>
<polygon points="116.50,406.50 107.64,405.88 113.28,398.23" fill="#66944f"/>
<polygon points="115.53,405.79 108.35,404.92 110.46,402.05" fill="#b2dc98"/>
<line x1="99.00" y1="409.50" x2="102.46" y2="412.05" stroke="#66944f" stroke-width="4.6"/>
<line x1="98.70" y1="409.90" x2="102.17" y2="412.45" stroke="#b2dc98" stroke-width="2.53"/>
<polygon points="108.50,416.50 99.64,415.88 105.28,408.23" fill="#66944f"/>
<polygon points="107.53,415.79 100.35,414.92 102.46,412.05" fill="#b2dc98"/>
<line x1="108.00" y1="476.50" x2="111.16" y2="478.50" stroke="#66944f" stroke-width="4.6"/>
<line x1="107.73" y1="476.92" x2="110.89" y2="478.92" stroke="#b2dc98" stroke-width="2.53"/>
<polygon points="117.50,482.50 108.62,482.51 113.70,474.48" fill="#66944f"/>
<polygon points="116.49,481.86 109.26,481.51 111.16,478.50" fill="#b2dc98"/>
<line x1="100.00" y1="485.00" x2="103.31" y2="487.26" stroke="#66944f" stroke-width="4.6"/>
<line x1="99.72" y1="485.41" x2="103.03" y2="487.68" stroke="#b2dc98" stroke-width="2.53"/>
<polygon points="109.50,491.50 100.63,491.19 105.99,483.34" fill="#66944f"/>
<polygon points="108.51,490.82 101.30,490.21 103.31,487.26" fill="#b2dc98"/>
<line x1="33.00" y1="475.00" x2="35.04" y2="476.20" stroke="#66944f" stroke-width="4.6"/>
<line x1="32.75" y1="475.43" x2="34.78" y2="476.63" stroke="#b2dc98" stroke-width="2.53"/>
<polygon points="41.50,480.00 32.63,480.29 37.44,472.10" fill="#66944f"/>
<polygon points="40.47,479.39 33.23,479.27 35.04,476.20" fill="#b2dc98"/>
<line x1="24.00" y1="483.00" x2="28.00" y2="486.00" stroke="#66944f" stroke-width="4.6"/>
<line x1="23.70" y1="483.40" x2="27.70" y2="486.40" stroke="#b2dc98" stroke-width="2.53"/>
<polygon points="34.00,490.50 25.15,489.80 30.85,482.20" fill="#66944f"/>
<polygon points="33.04,489.78 25.86,488.85 28.00,486.00" fill="#b2dc98"/>
<path d="M157.50,395.40L232.60,397.30 M148.70,405.00L224.20,406.60 M158.60,471.50L235.00,471.50 M149.10,480.40L225.10,481.60 M157.50,395.40L158.60,471.50 M148.70,405.00L149.10,480.40 M232.60,397.30L235.00,471.50 M224.20,406.60L225.10,481.60" stroke="#8c8c8c" stroke-width="1.0" fill="none"/>
<line x1="167.00" y1="393.00" x2="176.45" y2="389.56" stroke="#4e7a3a" stroke-width="4.6"/>
<line x1="167.17" y1="393.47" x2="176.62" y2="390.03" stroke="#9cc888" stroke-width="2.53"/>
<polygon points="183.50,387.00 178.07,394.03 174.83,385.10" fill="#4e7a3a"/>
<polygon points="182.37,387.41 177.67,392.91 176.45,389.56" fill="#9cc888"/>
<line x1="242.00" y1="395.00" x2="252.32" y2="392.42" stroke="#4e7a3a" stroke-width="4.6"/>
<line x1="242.12" y1="395.49" x2="252.45" y2="392.90" stroke="#9cc888" stroke-width="2.53"/>
<polygon points="259.60,390.60 253.48,397.03 251.17,387.81" fill="#4e7a3a"/>
<polygon points="258.44,390.89 253.19,395.88 252.32,392.42" fill="#9cc888"/>
<line x1="169.00" y1="469.50" x2="176.70" y2="467.70" stroke="#4e7a3a" stroke-width="4.6"/>
<line x1="169.11" y1="469.99" x2="176.81" y2="468.19" stroke="#9cc888" stroke-width="2.53"/>
<polygon points="184.00,466.00 177.78,472.33 175.62,463.08" fill="#4e7a3a"/>
<polygon points="182.83,466.27 177.51,471.17 176.70,467.70" fill="#9cc888"/>
<line x1="244.00" y1="469.50" x2="251.65" y2="467.97" stroke="#4e7a3a" stroke-width="4.6"/>
<line x1="244.10" y1="469.99" x2="251.74" y2="468.46" stroke="#9cc888" stroke-width="2.53"/>
<polygon points="259.00,466.50 252.58,472.63 250.71,463.31" fill="#4e7a3a"/>
<polygon points="257.82,466.74 252.34,471.46 251.65,467.97" fill="#9cc888"/>
<circle cx="157.50" cy="395.40" r="10.60" fill="url(#gBd)"/>
<circle cx="232.60" cy="397.30" r="10.60" fill="url(#gBd)"/>
<circle cx="158.60" cy="471.50" r="10.80" fill="url(#gBd)"/>
<circle cx="235.00" cy="471.50" r="10.20" fill="url(#gBd)"/>
<line x1="210.00" y1="419.25" x2="218.59" y2="410.91" stroke="#a81828" stroke-width="4.2"/>
<line x1="218.59" y1="410.91" x2="232.60" y2="397.30" stroke="#565c96" stroke-width="4.2"/>
<line x1="178.75" y1="448.00" x2="183.63" y2="444.77" stroke="#a81828" stroke-width="4.2"/>
<line x1="183.63" y1="444.77" x2="191.60" y2="439.50" stroke="#565c96" stroke-width="4.2"/>
<circle cx="210.00" cy="419.25" r="6.00" fill="url(#gO)"/>
<circle cx="178.75" cy="448.00" r="6.00" fill="url(#gO)"/>
<line x1="148.70" y1="405.00" x2="160.36" y2="411.51" stroke="#565c96" stroke-width="4.2"/>
<line x1="160.36" y1="411.51" x2="167.50" y2="415.50" stroke="#a81828" stroke-width="4.2"/>
<line x1="167.50" y1="415.50" x2="176.66" y2="424.62" stroke="#a81828" stroke-width="4.2"/>
<line x1="176.66" y1="424.62" x2="191.60" y2="439.50" stroke="#565c96" stroke-width="4.2"/>
<line x1="191.60" y1="439.50" x2="197.58" y2="432.37" stroke="#565c96" stroke-width="4.2"/>
<line x1="197.58" y1="432.37" x2="201.25" y2="428.00" stroke="#a81828" stroke-width="4.2"/>
<line x1="201.25" y1="428.00" x2="210.00" y2="419.25" stroke="#a81828" stroke-width="4.2"/>
<line x1="191.60" y1="439.50" x2="206.11" y2="453.30" stroke="#565c96" stroke-width="4.2"/>
<line x1="206.11" y1="453.30" x2="215.00" y2="461.75" stroke="#a81828" stroke-width="4.2"/>
<line x1="215.00" y1="461.75" x2="218.84" y2="469.29" stroke="#a81828" stroke-width="4.2"/>
<line x1="218.84" y1="469.29" x2="225.10" y2="481.60" stroke="#565c96" stroke-width="4.2"/>
<line x1="178.75" y1="448.00" x2="172.50" y2="456.75" stroke="#a81828" stroke-width="4.2"/>
<line x1="172.50" y1="456.75" x2="163.61" y2="465.74" stroke="#a81828" stroke-width="4.2"/>
<line x1="163.61" y1="465.74" x2="149.10" y2="480.40" stroke="#565c96" stroke-width="4.2"/>
<circle cx="191.60" cy="439.50" r="11.70" fill="url(#gB)"/>
<circle cx="167.50" cy="415.50" r="6.50" fill="url(#gO)"/>
<circle cx="201.25" cy="428.00" r="6.50" fill="url(#gO)"/>
<circle cx="172.50" cy="456.75" r="6.50" fill="url(#gO)"/>
<circle cx="215.00" cy="461.75" r="6.50" fill="url(#gO)"/>
<circle cx="148.70" cy="405.00" r="11.60" fill="url(#gB)"/>
<circle cx="224.20" cy="406.60" r="11.40" fill="url(#gB)"/>
<circle cx="149.10" cy="480.40" r="11.20" fill="url(#gB)"/>
<circle cx="225.10" cy="481.60" r="11.20" fill="url(#gB)"/>
<line x1="158.00" y1="402.50" x2="167.32" y2="399.68" stroke="#4e7a3a" stroke-width="4.6"/>
<line x1="158.15" y1="402.98" x2="167.47" y2="400.15" stroke="#9cc888" stroke-width="2.53"/>
<polygon points="174.50,397.50 168.70,404.22 165.94,395.13" fill="#4e7a3a"/>
<polygon points="173.35,397.85 168.36,403.08 167.32,399.68" fill="#9cc888"/>
<line x1="233.00" y1="404.00" x2="242.66" y2="401.95" stroke="#4e7a3a" stroke-width="4.6"/>
<line x1="233.10" y1="404.49" x2="242.77" y2="402.44" stroke="#9cc888" stroke-width="2.53"/>
<polygon points="250.00,400.40 243.65,406.60 241.68,397.31" fill="#4e7a3a"/>
<polygon points="248.83,400.65 243.40,405.44 242.66,401.95" fill="#9cc888"/>
<line x1="159.00" y1="477.00" x2="168.12" y2="475.34" stroke="#4e7a3a" stroke-width="4.6"/>
<line x1="159.09" y1="477.49" x2="168.21" y2="475.83" stroke="#9cc888" stroke-width="2.53"/>
<polygon points="175.50,474.00 168.97,480.02 167.27,470.67" fill="#4e7a3a"/>
<polygon points="174.32,474.21 168.76,478.85 168.12,475.34" fill="#9cc888"/>
<line x1="235.00" y1="477.50" x2="243.63" y2="475.88" stroke="#4e7a3a" stroke-width="4.6"/>
<line x1="235.09" y1="477.99" x2="243.72" y2="476.37" stroke="#9cc888" stroke-width="2.53"/>
<polygon points="251.00,474.50 244.50,480.55 242.75,471.21" fill="#4e7a3a"/>
<polygon points="249.82,474.72 244.28,479.38 243.63,475.88" fill="#9cc888"/>
<line x1="182.00" y1="434.00" x2="172.92" y2="432.62" stroke="#66944f" stroke-width="4.6"/>
<line x1="182.07" y1="433.51" x2="172.99" y2="432.13" stroke="#b2dc98" stroke-width="2.53"/>
<polygon points="165.50,431.50 173.63,427.93 172.20,437.32" fill="#66944f"/>
<polygon points="166.69,431.68 173.45,429.10 172.92,432.62" fill="#b2dc98"/>
<line x1="166.00" y1="421.00" x2="154.38" y2="426.02" stroke="#66944f" stroke-width="4.6"/>
<line x1="165.80" y1="420.54" x2="154.19" y2="425.56" stroke="#b2dc98" stroke-width="2.53"/>
<polygon points="147.50,429.00 152.50,421.66 156.27,430.38" fill="#66944f"/>
<polygon points="148.60,428.52 152.97,422.75 154.38,426.02" fill="#b2dc98"/>
<line x1="204.00" y1="430.00" x2="215.29" y2="439.63" stroke="#66944f" stroke-width="4.6"/>
<line x1="203.68" y1="430.38" x2="214.97" y2="440.01" stroke="#b2dc98" stroke-width="2.53"/>
<polygon points="221.00,444.50 212.21,443.25 218.38,436.02" fill="#66944f"/>
<polygon points="220.09,443.72 212.98,442.34 215.29,439.63" fill="#b2dc98"/>
<line x1="213.00" y1="422.00" x2="224.04" y2="430.44" stroke="#66944f" stroke-width="4.6"/>
<line x1="212.70" y1="422.40" x2="223.74" y2="430.84" stroke="#b2dc98" stroke-width="2.53"/>
<polygon points="230.00,435.00 221.16,434.22 226.93,426.67" fill="#66944f"/>
<polygon points="229.05,434.27 221.88,433.27 224.04,430.44" fill="#b2dc98"/>
<line x1="186.00" y1="452.00" x2="195.24" y2="459.70" stroke="#66944f" stroke-width="4.6"/>
<line x1="185.68" y1="452.38" x2="194.92" y2="460.08" stroke="#b2dc98" stroke-width="2.53"/>
<polygon points="201.00,464.50 192.20,463.35 198.28,456.05" fill="#66944f"/>
<polygon points="200.08,463.73 192.96,462.44 195.24,459.70" fill="#b2dc98"/>
<line x1="176.00" y1="460.00" x2="188.83" y2="471.09" stroke="#66944f" stroke-width="4.6"/>
<line x1="175.67" y1="460.38" x2="188.50" y2="471.47" stroke="#b2dc98" stroke-width="2.53"/>
<polygon points="194.50,476.00 185.72,474.69 191.93,467.50" fill="#66944f"/>
<polygon points="193.59,475.22 186.50,473.79 188.83,471.09" fill="#b2dc98"/>
<line x1="213.00" y1="465.00" x2="200.42" y2="472.62" stroke="#66944f" stroke-width="4.6"/>
<line x1="212.74" y1="464.57" x2="200.16" y2="472.19" stroke="#b2dc98" stroke-width="2.53"/>
<polygon points="194.00,476.50 197.96,468.55 202.88,476.68" fill="#66944f"/>
<polygon points="195.03,475.88 198.57,469.57 200.42,472.62" fill="#b2dc98"/>
<path d="M298.70,399.30L351.60,399.30 M298.70,478.00L351.60,478.00" stroke="#8c8c8c" stroke-width="1.0" fill="none"/>
<line x1="298.70" y1="399.30" x2="314.70" y2="408.79" stroke="#565c96" stroke-width="4.2"/>
<line x1="314.70" y1="408.79" x2="324.50" y2="414.60" stroke="#a81828" stroke-width="4.2"/>
<line x1="351.60" y1="399.30" x2="334.80" y2="408.79" stroke="#565c96" stroke-width="4.2"/>
<line x1="334.80" y1="408.79" x2="324.50" y2="414.60" stroke="#a81828" stroke-width="4.2"/>
<line x1="298.70" y1="478.00" x2="314.70" y2="469.20" stroke="#565c96" stroke-width="4.2"/>
<line x1="314.70" y1="469.20" x2="324.50" y2="463.80" stroke="#a81828" stroke-width="4.2"/>
<line x1="351.60" y1="478.00" x2="334.80" y2="469.20" stroke="#565c96" stroke-width="4.2"/>
<line x1="334.80" y1="469.20" x2="324.50" y2="463.80" stroke="#a81828" stroke-width="4.2"/>
<line x1="325.80" y1="440.60" x2="309.00" y2="430.06" stroke="#565c96" stroke-width="4.2"/>
<line x1="309.00" y1="430.06" x2="298.70" y2="423.60" stroke="#a81828" stroke-width="4.2"/>
<line x1="325.80" y1="440.60" x2="341.92" y2="429.94" stroke="#565c96" stroke-width="4.2"/>
<line x1="341.92" y1="429.94" x2="351.80" y2="423.40" stroke="#a81828" stroke-width="4.2"/>
<line x1="325.80" y1="440.60" x2="309.00" y2="449.16" stroke="#565c96" stroke-width="4.2"/>
<line x1="309.00" y1="449.16" x2="298.70" y2="454.40" stroke="#a81828" stroke-width="4.2"/>
<line x1="325.80" y1="440.60" x2="341.92" y2="449.03" stroke="#565c96" stroke-width="4.2"/>
<line x1="341.92" y1="449.03" x2="351.80" y2="454.20" stroke="#a81828" stroke-width="4.2"/>
<line x1="325.80" y1="440.60" x2="324.99" y2="424.48" stroke="#565c96" stroke-width="4.2"/>
<line x1="324.99" y1="424.48" x2="324.50" y2="414.60" stroke="#a81828" stroke-width="4.2"/>
<line x1="325.80" y1="440.60" x2="324.99" y2="454.98" stroke="#565c96" stroke-width="4.2"/>
<line x1="324.99" y1="454.98" x2="324.50" y2="463.80" stroke="#a81828" stroke-width="4.2"/>
<line x1="327.00" y1="414.60" x2="359.50" y2="414.60" stroke="#66944f" stroke-width="4.6"/>
<line x1="327.00" y1="415.10" x2="359.50" y2="415.10" stroke="#b2dc98" stroke-width="2.53"/>
<polygon points="367.00,414.60 359.50,419.35 359.50,409.85" fill="#66944f"/>
<polygon points="365.80,414.60 359.50,418.16 359.50,414.60" fill="#b2dc98"/>
<line x1="301.00" y1="423.60" x2="333.00" y2="423.60" stroke="#66944f" stroke-width="4.6"/>
<line x1="301.00" y1="424.10" x2="333.00" y2="424.10" stroke="#b2dc98" stroke-width="2.53"/>
<polygon points="340.50,423.60 333.00,428.35 333.00,418.85" fill="#66944f"/>
<polygon points="339.30,423.60 333.00,427.16 333.00,423.60" fill="#b2dc98"/>
<line x1="354.00" y1="423.40" x2="385.50" y2="423.40" stroke="#66944f" stroke-width="4.6"/>
<line x1="354.00" y1="423.90" x2="385.50" y2="423.90" stroke="#b2dc98" stroke-width="2.53"/>
<polygon points="393.00,423.40 385.50,428.15 385.50,418.65" fill="#66944f"/>
<polygon points="391.80,423.40 385.50,426.96 385.50,423.40" fill="#b2dc98"/>
<line x1="301.00" y1="454.40" x2="333.00" y2="454.40" stroke="#66944f" stroke-width="4.6"/>
<line x1="301.00" y1="454.90" x2="333.00" y2="454.90" stroke="#b2dc98" stroke-width="2.53"/>
<polygon points="340.50,454.40 333.00,459.15 333.00,449.65" fill="#66944f"/>
<polygon points="339.30,454.40 333.00,457.96 333.00,454.40" fill="#b2dc98"/>
<line x1="354.00" y1="454.20" x2="385.50" y2="454.20" stroke="#66944f" stroke-width="4.6"/>
<line x1="354.00" y1="454.70" x2="385.50" y2="454.70" stroke="#b2dc98" stroke-width="2.53"/>
<polygon points="393.00,454.20 385.50,458.95 385.50,449.45" fill="#66944f"/>
<polygon points="391.80,454.20 385.50,457.76 385.50,454.20" fill="#b2dc98"/>
<line x1="327.00" y1="463.80" x2="359.50" y2="463.80" stroke="#66944f" stroke-width="4.6"/>
<line x1="327.00" y1="464.30" x2="359.50" y2="464.30" stroke="#b2dc98" stroke-width="2.53"/>
<polygon points="367.00,463.80 359.50,468.55 359.50,459.05" fill="#66944f"/>
<polygon points="365.80,463.80 359.50,467.36 359.50,463.80" fill="#b2dc98"/>
<line x1="292.00" y1="399.30" x2="287.00" y2="399.30" stroke="#66944f" stroke-width="3.4"/>
<line x1="292.00" y1="398.80" x2="287.00" y2="398.80" stroke="#b2dc98" stroke-width="1.87"/>
<polygon points="281.00,399.30 287.00,395.80 287.00,402.80" fill="#66944f"/>
<polygon points="282.20,399.30 287.00,396.68 287.00,399.30" fill="#b2dc98"/>
<line x1="328.00" y1="399.30" x2="332.00" y2="399.30" stroke="#66944f" stroke-width="3.4"/>
<line x1="328.00" y1="399.80" x2="332.00" y2="399.80" stroke="#b2dc98" stroke-width="1.87"/>
<polygon points="338.00,399.30 332.00,402.80 332.00,395.80" fill="#66944f"/>
<polygon points="336.80,399.30 332.00,401.93 332.00,399.30" fill="#b2dc98"/>
<line x1="292.00" y1="478.00" x2="287.00" y2="478.00" stroke="#66944f" stroke-width="3.4"/>
<line x1="292.00" y1="477.50" x2="287.00" y2="477.50" stroke="#b2dc98" stroke-width="1.87"/>
<polygon points="281.00,478.00 287.00,474.50 287.00,481.50" fill="#66944f"/>
<polygon points="282.20,478.00 287.00,475.38 287.00,478.00" fill="#b2dc98"/>
<line x1="328.00" y1="478.00" x2="332.00" y2="478.00" stroke="#66944f" stroke-width="3.4"/>
<line x1="328.00" y1="478.50" x2="332.00" y2="478.50" stroke="#b2dc98" stroke-width="1.87"/>
<polygon points="338.00,478.00 332.00,481.50 332.00,474.50" fill="#66944f"/>
<polygon points="336.80,478.00 332.00,480.62 332.00,478.00" fill="#b2dc98"/>
<line x1="318.00" y1="440.60" x2="312.00" y2="440.60" stroke="#66944f" stroke-width="3.4"/>
<line x1="318.00" y1="440.10" x2="312.00" y2="440.10" stroke="#b2dc98" stroke-width="1.87"/>
<polygon points="306.00,440.60 312.00,437.10 312.00,444.10" fill="#66944f"/>
<polygon points="307.20,440.60 312.00,437.98 312.00,440.60" fill="#b2dc98"/>
<circle cx="298.70" cy="399.30" r="12.00" fill="url(#gB)"/>
<circle cx="351.60" cy="399.30" r="12.00" fill="url(#gB)"/>
<circle cx="298.70" cy="478.00" r="12.00" fill="url(#gB)"/>
<circle cx="351.60" cy="478.00" r="12.00" fill="url(#gB)"/>
<circle cx="325.80" cy="440.60" r="12.00" fill="url(#gB)"/>
<circle cx="324.50" cy="414.60" r="7.00" fill="url(#gO)"/>
<circle cx="298.70" cy="423.60" r="6.70" fill="url(#gO)"/>
<circle cx="351.80" cy="423.40" r="6.80" fill="url(#gO)"/>
<circle cx="298.70" cy="454.40" r="6.70" fill="url(#gO)"/>
<circle cx="351.80" cy="454.20" r="6.80" fill="url(#gO)"/>
<circle cx="324.50" cy="463.80" r="7.00" fill="url(#gO)"/>
<path d="M298.70,410.80L298.70,466.50 M351.60,410.80L351.60,466.50" stroke="#a0a0a0" stroke-width="0.9" fill="none"/>
<path d="M431.50,396.80L506.80,397.70 M421.90,404.80L497.60,406.20 M432.40,471.40L508.50,472.00 M422.70,480.40L498.50,481.40 M431.50,396.80L432.40,471.40 M421.90,404.80L422.70,480.40 M506.80,397.70L508.50,472.00 M497.60,406.20L498.50,481.40" stroke="#8c8c8c" stroke-width="1.0" fill="none"/>
<circle cx="431.50" cy="396.80" r="11.00" fill="url(#gBd)"/>
<circle cx="506.80" cy="397.70" r="11.00" fill="url(#gBd)"/>
<circle cx="432.40" cy="471.40" r="11.00" fill="url(#gBd)"/>
<circle cx="508.50" cy="472.00" r="10.60" fill="url(#gBd)"/>
<line x1="483.30" y1="419.90" x2="492.23" y2="411.46" stroke="#a81828" stroke-width="4.2"/>
<line x1="492.23" y1="411.46" x2="506.80" y2="397.70" stroke="#565c96" stroke-width="4.2"/>
<line x1="453.80" y1="449.40" x2="457.87" y2="445.52" stroke="#a81828" stroke-width="4.2"/>
<line x1="457.87" y1="445.52" x2="464.50" y2="439.20" stroke="#565c96" stroke-width="4.2"/>
<circle cx="483.30" cy="419.90" r="6.50" fill="url(#gO)"/>
<circle cx="453.80" cy="449.40" r="6.50" fill="url(#gO)"/>
<line x1="421.90" y1="404.80" x2="433.74" y2="410.75" stroke="#565c96" stroke-width="4.2"/>
<line x1="433.74" y1="410.75" x2="441.00" y2="414.40" stroke="#a81828" stroke-width="4.2"/>
<line x1="441.00" y1="414.40" x2="449.93" y2="423.82" stroke="#a81828" stroke-width="4.2"/>
<line x1="449.93" y1="423.82" x2="464.50" y2="439.20" stroke="#6a8a80" stroke-width="4.2"/>
<line x1="464.50" y1="439.20" x2="471.26" y2="432.88" stroke="#565c96" stroke-width="4.2"/>
<line x1="471.26" y1="432.88" x2="475.40" y2="429.00" stroke="#a81828" stroke-width="4.2"/>
<line x1="475.40" y1="429.00" x2="483.30" y2="419.90" stroke="#a81828" stroke-width="4.2"/>
<line x1="464.50" y1="439.20" x2="478.95" y2="453.21" stroke="#565c96" stroke-width="4.2"/>
<line x1="478.95" y1="453.21" x2="487.80" y2="461.80" stroke="#a81828" stroke-width="4.2"/>
<line x1="487.80" y1="461.80" x2="491.87" y2="469.25" stroke="#a81828" stroke-width="4.2"/>
<line x1="491.87" y1="469.25" x2="498.50" y2="481.40" stroke="#565c96" stroke-width="4.2"/>
<line x1="453.80" y1="449.40" x2="445.90" y2="457.30" stroke="#a81828" stroke-width="4.2"/>
<line x1="445.90" y1="457.30" x2="437.08" y2="466.08" stroke="#a81828" stroke-width="4.2"/>
<line x1="437.08" y1="466.08" x2="422.70" y2="480.40" stroke="#6a8a80" stroke-width="4.2"/>
<circle cx="464.50" cy="439.20" r="11.90" fill="url(#gB)"/>
<circle cx="441.00" cy="414.40" r="6.60" fill="url(#gO)"/>
<circle cx="475.40" cy="429.00" r="7.00" fill="url(#gO)"/>
<circle cx="445.90" cy="457.30" r="7.00" fill="url(#gO)"/>
<circle cx="487.80" cy="461.80" r="7.00" fill="url(#gO)"/>
<circle cx="421.90" cy="404.80" r="11.40" fill="url(#gB)"/>
<circle cx="497.60" cy="406.20" r="11.40" fill="url(#gB)"/>
<circle cx="422.70" cy="480.40" r="11.30" fill="url(#gB)"/>
<circle cx="498.50" cy="481.40" r="11.50" fill="url(#gB)"/>
<line x1="445.90" y1="421.00" x2="452.04" y2="427.99" stroke="#66944f" stroke-width="3.4"/>
<line x1="445.52" y1="421.33" x2="451.66" y2="428.32" stroke="#b2dc98" stroke-width="1.87"/>
<polygon points="456.00,432.50 449.41,430.30 454.67,425.68" fill="#66944f"/>
<polygon points="455.21,431.60 450.07,429.72 452.04,427.99" fill="#b2dc98"/>
<line x1="468.00" y1="433.00" x2="462.51" y2="440.63" stroke="#66944f" stroke-width="3.4"/>
<line x1="467.59" y1="432.71" x2="462.10" y2="440.34" stroke="#b2dc98" stroke-width="1.87"/>
<polygon points="459.00,445.50 459.67,438.59 465.35,442.68" fill="#66944f"/>
<polygon points="459.70,444.53 460.38,439.10 462.51,440.63" fill="#b2dc98"/>
<line x1="438.00" y1="464.00" x2="434.60" y2="467.62" stroke="#66944f" stroke-width="3.4"/>
<line x1="437.64" y1="463.66" x2="434.24" y2="467.28" stroke="#b2dc98" stroke-width="1.87"/>
<polygon points="430.50,472.00 432.05,465.23 437.16,470.02" fill="#66944f"/>
<polygon points="431.32,471.12 432.69,465.83 434.60,467.62" fill="#b2dc98"/>
<text transform="translate(3.20,508.10) scale(1.0,1)" font-size="15.2" fill="#111" font-family="Liberation Sans, sans-serif" stroke="#111" stroke-width="0.32">(g)</text>
<text transform="translate(28.50,508.10) scale(1.0,1)" font-size="15.2" fill="#111" font-family="Liberation Sans, sans-serif" stroke="#111" stroke-width="0.32">E</text>
<text transform="translate(40.30,512.10) scale(1.0,1)" font-size="12.5" fill="#111" font-family="Liberation Sans, sans-serif" stroke="#111" stroke-width="0.32">u</text>
<text transform="translate(49.60,508.10) scale(1.0,1)" font-size="15.2" fill="#111" font-family="Liberation Sans, sans-serif" stroke="#111" stroke-width="0.32">(41 meV)</text>
<text transform="translate(135.70,508.10) scale(1.0,1)" font-size="15.2" fill="#111" font-family="Liberation Sans, sans-serif" stroke="#111" stroke-width="0.32">(h)</text>
<text transform="translate(161.10,508.10) scale(1.0,1)" font-size="15.2" fill="#111" font-family="Liberation Sans, sans-serif" stroke="#111" stroke-width="0.32">E</text>
<text transform="translate(172.90,512.10) scale(1.0,1)" font-size="12.5" fill="#111" font-family="Liberation Sans, sans-serif" stroke="#111" stroke-width="0.32">u</text>
<text transform="translate(183.00,508.10) scale(0.975,1)" font-size="15.2" fill="#111" font-family="Liberation Sans, sans-serif" stroke="#111" stroke-width="0.32">(49 meV)</text>
<text transform="translate(275.80,508.10) scale(1.0,1)" font-size="15.2" fill="#111" font-family="Liberation Sans, sans-serif" stroke="#111" stroke-width="0.32">(i)</text>
<text transform="translate(296.60,508.10) scale(1.0,1)" font-size="15.2" fill="#111" font-family="Liberation Sans, sans-serif" stroke="#111" stroke-width="0.32">A</text>
<text transform="translate(307.90,512.10) scale(1.0,1)" font-size="12.5" fill="#111" font-family="Liberation Sans, sans-serif" stroke="#111" stroke-width="0.32">2u</text>
<text transform="translate(325.70,508.10) scale(0.985,1)" font-size="15.2" fill="#111" font-family="Liberation Sans, sans-serif" stroke="#111" stroke-width="0.32">(94 meV)</text>
<text transform="translate(406.60,508.10) scale(1.0,1)" font-size="15.2" fill="#111" font-family="Liberation Sans, sans-serif" stroke="#111" stroke-width="0.32">(j)</text>
<text transform="translate(427.40,508.10) scale(1.0,1)" font-size="15.2" fill="#111" font-family="Liberation Sans, sans-serif" stroke="#111" stroke-width="0.32">E</text>
<text transform="translate(439.00,512.10) scale(1.0,1)" font-size="12.5" fill="#111" font-family="Liberation Sans, sans-serif" stroke="#111" stroke-width="0.32">u</text>
<text transform="translate(449.40,508.10) scale(0.962,1)" font-size="15.2" fill="#111" font-family="Liberation Sans, sans-serif" stroke="#111" stroke-width="0.32">(100 meV)</text>
</svg>
</body></html>
